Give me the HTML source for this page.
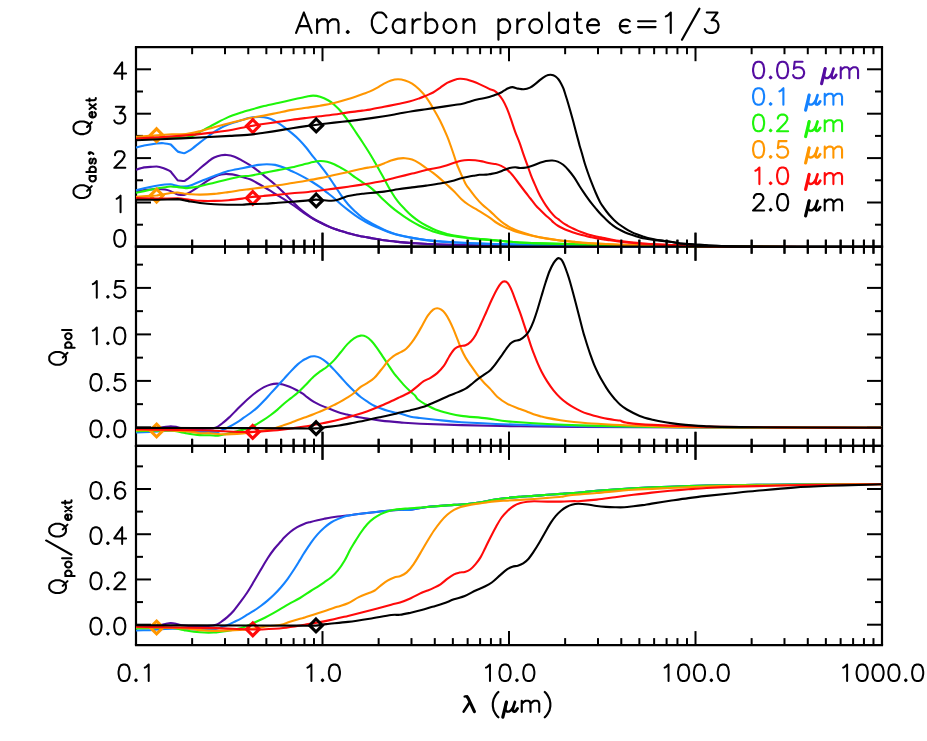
<!DOCTYPE html>
<html><head><meta charset="utf-8"><title>Am. Carbon prolate</title>
<style>html,body{margin:0;padding:0;background:#fff;font-family:"Liberation Sans",sans-serif;}svg{display:block;}</style>
</head><body>
<svg width="927" height="741" viewBox="0 0 927 741">
<rect width="927" height="741" fill="#ffffff"/>
<defs>
<clipPath id="c1"><rect x="134.8" y="46.2" width="748.4" height="201.5"/></clipPath>
<clipPath id="c2"><rect x="134.8" y="245.7" width="748.4" height="201.1"/></clipPath>
<clipPath id="c3"><rect x="134.8" y="444.8" width="748.4" height="201.3"/></clipPath>
</defs>
<line x1="134.9" y1="47.2" x2="883.1" y2="47.2" stroke="#000" stroke-width="2.2" stroke-linecap="butt"/>
<line x1="134.9" y1="246.7" x2="883.1" y2="246.7" stroke="#000" stroke-width="2.2" stroke-linecap="butt"/>
<line x1="134.9" y1="445.8" x2="883.1" y2="445.8" stroke="#000" stroke-width="2.2" stroke-linecap="butt"/>
<line x1="134.9" y1="645.1" x2="883.1" y2="645.1" stroke="#000" stroke-width="2.2" stroke-linecap="butt"/>
<line x1="136" y1="47.2" x2="136" y2="645.1" stroke="#000" stroke-width="2.2" stroke-linecap="butt"/>
<line x1="882" y1="47.2" x2="882" y2="645.1" stroke="#000" stroke-width="2.2" stroke-linecap="butt"/>
<line x1="192.14" y1="47.2" x2="192.14" y2="54.2" stroke="#000" stroke-width="2" stroke-linecap="butt"/>
<line x1="192.14" y1="239.7" x2="192.14" y2="253.7" stroke="#000" stroke-width="2" stroke-linecap="butt"/>
<line x1="192.14" y1="438.8" x2="192.14" y2="452.8" stroke="#000" stroke-width="2" stroke-linecap="butt"/>
<line x1="192.14" y1="638.1" x2="192.14" y2="645.1" stroke="#000" stroke-width="2" stroke-linecap="butt"/>
<line x1="224.98" y1="47.2" x2="224.98" y2="54.2" stroke="#000" stroke-width="2" stroke-linecap="butt"/>
<line x1="224.98" y1="239.7" x2="224.98" y2="253.7" stroke="#000" stroke-width="2" stroke-linecap="butt"/>
<line x1="224.98" y1="438.8" x2="224.98" y2="452.8" stroke="#000" stroke-width="2" stroke-linecap="butt"/>
<line x1="224.98" y1="638.1" x2="224.98" y2="645.1" stroke="#000" stroke-width="2" stroke-linecap="butt"/>
<line x1="248.28" y1="47.2" x2="248.28" y2="54.2" stroke="#000" stroke-width="2" stroke-linecap="butt"/>
<line x1="248.28" y1="239.7" x2="248.28" y2="253.7" stroke="#000" stroke-width="2" stroke-linecap="butt"/>
<line x1="248.28" y1="438.8" x2="248.28" y2="452.8" stroke="#000" stroke-width="2" stroke-linecap="butt"/>
<line x1="248.28" y1="638.1" x2="248.28" y2="645.1" stroke="#000" stroke-width="2" stroke-linecap="butt"/>
<line x1="266.36" y1="47.2" x2="266.36" y2="54.2" stroke="#000" stroke-width="2" stroke-linecap="butt"/>
<line x1="266.36" y1="239.7" x2="266.36" y2="253.7" stroke="#000" stroke-width="2" stroke-linecap="butt"/>
<line x1="266.36" y1="438.8" x2="266.36" y2="452.8" stroke="#000" stroke-width="2" stroke-linecap="butt"/>
<line x1="266.36" y1="638.1" x2="266.36" y2="645.1" stroke="#000" stroke-width="2" stroke-linecap="butt"/>
<line x1="281.13" y1="47.2" x2="281.13" y2="54.2" stroke="#000" stroke-width="2" stroke-linecap="butt"/>
<line x1="281.13" y1="239.7" x2="281.13" y2="253.7" stroke="#000" stroke-width="2" stroke-linecap="butt"/>
<line x1="281.13" y1="438.8" x2="281.13" y2="452.8" stroke="#000" stroke-width="2" stroke-linecap="butt"/>
<line x1="281.13" y1="638.1" x2="281.13" y2="645.1" stroke="#000" stroke-width="2" stroke-linecap="butt"/>
<line x1="293.61" y1="47.2" x2="293.61" y2="54.2" stroke="#000" stroke-width="2" stroke-linecap="butt"/>
<line x1="293.61" y1="239.7" x2="293.61" y2="253.7" stroke="#000" stroke-width="2" stroke-linecap="butt"/>
<line x1="293.61" y1="438.8" x2="293.61" y2="452.8" stroke="#000" stroke-width="2" stroke-linecap="butt"/>
<line x1="293.61" y1="638.1" x2="293.61" y2="645.1" stroke="#000" stroke-width="2" stroke-linecap="butt"/>
<line x1="304.43" y1="47.2" x2="304.43" y2="54.2" stroke="#000" stroke-width="2" stroke-linecap="butt"/>
<line x1="304.43" y1="239.7" x2="304.43" y2="253.7" stroke="#000" stroke-width="2" stroke-linecap="butt"/>
<line x1="304.43" y1="438.8" x2="304.43" y2="452.8" stroke="#000" stroke-width="2" stroke-linecap="butt"/>
<line x1="304.43" y1="638.1" x2="304.43" y2="645.1" stroke="#000" stroke-width="2" stroke-linecap="butt"/>
<line x1="313.97" y1="47.2" x2="313.97" y2="54.2" stroke="#000" stroke-width="2" stroke-linecap="butt"/>
<line x1="313.97" y1="239.7" x2="313.97" y2="253.7" stroke="#000" stroke-width="2" stroke-linecap="butt"/>
<line x1="313.97" y1="438.8" x2="313.97" y2="452.8" stroke="#000" stroke-width="2" stroke-linecap="butt"/>
<line x1="313.97" y1="638.1" x2="313.97" y2="645.1" stroke="#000" stroke-width="2" stroke-linecap="butt"/>
<line x1="322.5" y1="47.2" x2="322.5" y2="61.2" stroke="#000" stroke-width="2" stroke-linecap="butt"/>
<line x1="322.5" y1="232.7" x2="322.5" y2="260.7" stroke="#000" stroke-width="2" stroke-linecap="butt"/>
<line x1="322.5" y1="431.8" x2="322.5" y2="459.8" stroke="#000" stroke-width="2" stroke-linecap="butt"/>
<line x1="322.5" y1="631.1" x2="322.5" y2="645.1" stroke="#000" stroke-width="2" stroke-linecap="butt"/>
<line x1="378.64" y1="47.2" x2="378.64" y2="54.2" stroke="#000" stroke-width="2" stroke-linecap="butt"/>
<line x1="378.64" y1="239.7" x2="378.64" y2="253.7" stroke="#000" stroke-width="2" stroke-linecap="butt"/>
<line x1="378.64" y1="438.8" x2="378.64" y2="452.8" stroke="#000" stroke-width="2" stroke-linecap="butt"/>
<line x1="378.64" y1="638.1" x2="378.64" y2="645.1" stroke="#000" stroke-width="2" stroke-linecap="butt"/>
<line x1="411.48" y1="47.2" x2="411.48" y2="54.2" stroke="#000" stroke-width="2" stroke-linecap="butt"/>
<line x1="411.48" y1="239.7" x2="411.48" y2="253.7" stroke="#000" stroke-width="2" stroke-linecap="butt"/>
<line x1="411.48" y1="438.8" x2="411.48" y2="452.8" stroke="#000" stroke-width="2" stroke-linecap="butt"/>
<line x1="411.48" y1="638.1" x2="411.48" y2="645.1" stroke="#000" stroke-width="2" stroke-linecap="butt"/>
<line x1="434.78" y1="47.2" x2="434.78" y2="54.2" stroke="#000" stroke-width="2" stroke-linecap="butt"/>
<line x1="434.78" y1="239.7" x2="434.78" y2="253.7" stroke="#000" stroke-width="2" stroke-linecap="butt"/>
<line x1="434.78" y1="438.8" x2="434.78" y2="452.8" stroke="#000" stroke-width="2" stroke-linecap="butt"/>
<line x1="434.78" y1="638.1" x2="434.78" y2="645.1" stroke="#000" stroke-width="2" stroke-linecap="butt"/>
<line x1="452.86" y1="47.2" x2="452.86" y2="54.2" stroke="#000" stroke-width="2" stroke-linecap="butt"/>
<line x1="452.86" y1="239.7" x2="452.86" y2="253.7" stroke="#000" stroke-width="2" stroke-linecap="butt"/>
<line x1="452.86" y1="438.8" x2="452.86" y2="452.8" stroke="#000" stroke-width="2" stroke-linecap="butt"/>
<line x1="452.86" y1="638.1" x2="452.86" y2="645.1" stroke="#000" stroke-width="2" stroke-linecap="butt"/>
<line x1="467.63" y1="47.2" x2="467.63" y2="54.2" stroke="#000" stroke-width="2" stroke-linecap="butt"/>
<line x1="467.63" y1="239.7" x2="467.63" y2="253.7" stroke="#000" stroke-width="2" stroke-linecap="butt"/>
<line x1="467.63" y1="438.8" x2="467.63" y2="452.8" stroke="#000" stroke-width="2" stroke-linecap="butt"/>
<line x1="467.63" y1="638.1" x2="467.63" y2="645.1" stroke="#000" stroke-width="2" stroke-linecap="butt"/>
<line x1="480.11" y1="47.2" x2="480.11" y2="54.2" stroke="#000" stroke-width="2" stroke-linecap="butt"/>
<line x1="480.11" y1="239.7" x2="480.11" y2="253.7" stroke="#000" stroke-width="2" stroke-linecap="butt"/>
<line x1="480.11" y1="438.8" x2="480.11" y2="452.8" stroke="#000" stroke-width="2" stroke-linecap="butt"/>
<line x1="480.11" y1="638.1" x2="480.11" y2="645.1" stroke="#000" stroke-width="2" stroke-linecap="butt"/>
<line x1="490.93" y1="47.2" x2="490.93" y2="54.2" stroke="#000" stroke-width="2" stroke-linecap="butt"/>
<line x1="490.93" y1="239.7" x2="490.93" y2="253.7" stroke="#000" stroke-width="2" stroke-linecap="butt"/>
<line x1="490.93" y1="438.8" x2="490.93" y2="452.8" stroke="#000" stroke-width="2" stroke-linecap="butt"/>
<line x1="490.93" y1="638.1" x2="490.93" y2="645.1" stroke="#000" stroke-width="2" stroke-linecap="butt"/>
<line x1="500.47" y1="47.2" x2="500.47" y2="54.2" stroke="#000" stroke-width="2" stroke-linecap="butt"/>
<line x1="500.47" y1="239.7" x2="500.47" y2="253.7" stroke="#000" stroke-width="2" stroke-linecap="butt"/>
<line x1="500.47" y1="438.8" x2="500.47" y2="452.8" stroke="#000" stroke-width="2" stroke-linecap="butt"/>
<line x1="500.47" y1="638.1" x2="500.47" y2="645.1" stroke="#000" stroke-width="2" stroke-linecap="butt"/>
<line x1="509" y1="47.2" x2="509" y2="61.2" stroke="#000" stroke-width="2" stroke-linecap="butt"/>
<line x1="509" y1="232.7" x2="509" y2="260.7" stroke="#000" stroke-width="2" stroke-linecap="butt"/>
<line x1="509" y1="431.8" x2="509" y2="459.8" stroke="#000" stroke-width="2" stroke-linecap="butt"/>
<line x1="509" y1="631.1" x2="509" y2="645.1" stroke="#000" stroke-width="2" stroke-linecap="butt"/>
<line x1="565.14" y1="47.2" x2="565.14" y2="54.2" stroke="#000" stroke-width="2" stroke-linecap="butt"/>
<line x1="565.14" y1="239.7" x2="565.14" y2="253.7" stroke="#000" stroke-width="2" stroke-linecap="butt"/>
<line x1="565.14" y1="438.8" x2="565.14" y2="452.8" stroke="#000" stroke-width="2" stroke-linecap="butt"/>
<line x1="565.14" y1="638.1" x2="565.14" y2="645.1" stroke="#000" stroke-width="2" stroke-linecap="butt"/>
<line x1="597.98" y1="47.2" x2="597.98" y2="54.2" stroke="#000" stroke-width="2" stroke-linecap="butt"/>
<line x1="597.98" y1="239.7" x2="597.98" y2="253.7" stroke="#000" stroke-width="2" stroke-linecap="butt"/>
<line x1="597.98" y1="438.8" x2="597.98" y2="452.8" stroke="#000" stroke-width="2" stroke-linecap="butt"/>
<line x1="597.98" y1="638.1" x2="597.98" y2="645.1" stroke="#000" stroke-width="2" stroke-linecap="butt"/>
<line x1="621.28" y1="47.2" x2="621.28" y2="54.2" stroke="#000" stroke-width="2" stroke-linecap="butt"/>
<line x1="621.28" y1="239.7" x2="621.28" y2="253.7" stroke="#000" stroke-width="2" stroke-linecap="butt"/>
<line x1="621.28" y1="438.8" x2="621.28" y2="452.8" stroke="#000" stroke-width="2" stroke-linecap="butt"/>
<line x1="621.28" y1="638.1" x2="621.28" y2="645.1" stroke="#000" stroke-width="2" stroke-linecap="butt"/>
<line x1="639.36" y1="47.2" x2="639.36" y2="54.2" stroke="#000" stroke-width="2" stroke-linecap="butt"/>
<line x1="639.36" y1="239.7" x2="639.36" y2="253.7" stroke="#000" stroke-width="2" stroke-linecap="butt"/>
<line x1="639.36" y1="438.8" x2="639.36" y2="452.8" stroke="#000" stroke-width="2" stroke-linecap="butt"/>
<line x1="639.36" y1="638.1" x2="639.36" y2="645.1" stroke="#000" stroke-width="2" stroke-linecap="butt"/>
<line x1="654.13" y1="47.2" x2="654.13" y2="54.2" stroke="#000" stroke-width="2" stroke-linecap="butt"/>
<line x1="654.13" y1="239.7" x2="654.13" y2="253.7" stroke="#000" stroke-width="2" stroke-linecap="butt"/>
<line x1="654.13" y1="438.8" x2="654.13" y2="452.8" stroke="#000" stroke-width="2" stroke-linecap="butt"/>
<line x1="654.13" y1="638.1" x2="654.13" y2="645.1" stroke="#000" stroke-width="2" stroke-linecap="butt"/>
<line x1="666.61" y1="47.2" x2="666.61" y2="54.2" stroke="#000" stroke-width="2" stroke-linecap="butt"/>
<line x1="666.61" y1="239.7" x2="666.61" y2="253.7" stroke="#000" stroke-width="2" stroke-linecap="butt"/>
<line x1="666.61" y1="438.8" x2="666.61" y2="452.8" stroke="#000" stroke-width="2" stroke-linecap="butt"/>
<line x1="666.61" y1="638.1" x2="666.61" y2="645.1" stroke="#000" stroke-width="2" stroke-linecap="butt"/>
<line x1="677.43" y1="47.2" x2="677.43" y2="54.2" stroke="#000" stroke-width="2" stroke-linecap="butt"/>
<line x1="677.43" y1="239.7" x2="677.43" y2="253.7" stroke="#000" stroke-width="2" stroke-linecap="butt"/>
<line x1="677.43" y1="438.8" x2="677.43" y2="452.8" stroke="#000" stroke-width="2" stroke-linecap="butt"/>
<line x1="677.43" y1="638.1" x2="677.43" y2="645.1" stroke="#000" stroke-width="2" stroke-linecap="butt"/>
<line x1="686.97" y1="47.2" x2="686.97" y2="54.2" stroke="#000" stroke-width="2" stroke-linecap="butt"/>
<line x1="686.97" y1="239.7" x2="686.97" y2="253.7" stroke="#000" stroke-width="2" stroke-linecap="butt"/>
<line x1="686.97" y1="438.8" x2="686.97" y2="452.8" stroke="#000" stroke-width="2" stroke-linecap="butt"/>
<line x1="686.97" y1="638.1" x2="686.97" y2="645.1" stroke="#000" stroke-width="2" stroke-linecap="butt"/>
<line x1="695.5" y1="47.2" x2="695.5" y2="61.2" stroke="#000" stroke-width="2" stroke-linecap="butt"/>
<line x1="695.5" y1="232.7" x2="695.5" y2="260.7" stroke="#000" stroke-width="2" stroke-linecap="butt"/>
<line x1="695.5" y1="431.8" x2="695.5" y2="459.8" stroke="#000" stroke-width="2" stroke-linecap="butt"/>
<line x1="695.5" y1="631.1" x2="695.5" y2="645.1" stroke="#000" stroke-width="2" stroke-linecap="butt"/>
<line x1="751.64" y1="47.2" x2="751.64" y2="54.2" stroke="#000" stroke-width="2" stroke-linecap="butt"/>
<line x1="751.64" y1="239.7" x2="751.64" y2="253.7" stroke="#000" stroke-width="2" stroke-linecap="butt"/>
<line x1="751.64" y1="438.8" x2="751.64" y2="452.8" stroke="#000" stroke-width="2" stroke-linecap="butt"/>
<line x1="751.64" y1="638.1" x2="751.64" y2="645.1" stroke="#000" stroke-width="2" stroke-linecap="butt"/>
<line x1="784.48" y1="47.2" x2="784.48" y2="54.2" stroke="#000" stroke-width="2" stroke-linecap="butt"/>
<line x1="784.48" y1="239.7" x2="784.48" y2="253.7" stroke="#000" stroke-width="2" stroke-linecap="butt"/>
<line x1="784.48" y1="438.8" x2="784.48" y2="452.8" stroke="#000" stroke-width="2" stroke-linecap="butt"/>
<line x1="784.48" y1="638.1" x2="784.48" y2="645.1" stroke="#000" stroke-width="2" stroke-linecap="butt"/>
<line x1="807.78" y1="47.2" x2="807.78" y2="54.2" stroke="#000" stroke-width="2" stroke-linecap="butt"/>
<line x1="807.78" y1="239.7" x2="807.78" y2="253.7" stroke="#000" stroke-width="2" stroke-linecap="butt"/>
<line x1="807.78" y1="438.8" x2="807.78" y2="452.8" stroke="#000" stroke-width="2" stroke-linecap="butt"/>
<line x1="807.78" y1="638.1" x2="807.78" y2="645.1" stroke="#000" stroke-width="2" stroke-linecap="butt"/>
<line x1="825.86" y1="47.2" x2="825.86" y2="54.2" stroke="#000" stroke-width="2" stroke-linecap="butt"/>
<line x1="825.86" y1="239.7" x2="825.86" y2="253.7" stroke="#000" stroke-width="2" stroke-linecap="butt"/>
<line x1="825.86" y1="438.8" x2="825.86" y2="452.8" stroke="#000" stroke-width="2" stroke-linecap="butt"/>
<line x1="825.86" y1="638.1" x2="825.86" y2="645.1" stroke="#000" stroke-width="2" stroke-linecap="butt"/>
<line x1="840.63" y1="47.2" x2="840.63" y2="54.2" stroke="#000" stroke-width="2" stroke-linecap="butt"/>
<line x1="840.63" y1="239.7" x2="840.63" y2="253.7" stroke="#000" stroke-width="2" stroke-linecap="butt"/>
<line x1="840.63" y1="438.8" x2="840.63" y2="452.8" stroke="#000" stroke-width="2" stroke-linecap="butt"/>
<line x1="840.63" y1="638.1" x2="840.63" y2="645.1" stroke="#000" stroke-width="2" stroke-linecap="butt"/>
<line x1="853.11" y1="47.2" x2="853.11" y2="54.2" stroke="#000" stroke-width="2" stroke-linecap="butt"/>
<line x1="853.11" y1="239.7" x2="853.11" y2="253.7" stroke="#000" stroke-width="2" stroke-linecap="butt"/>
<line x1="853.11" y1="438.8" x2="853.11" y2="452.8" stroke="#000" stroke-width="2" stroke-linecap="butt"/>
<line x1="853.11" y1="638.1" x2="853.11" y2="645.1" stroke="#000" stroke-width="2" stroke-linecap="butt"/>
<line x1="863.93" y1="47.2" x2="863.93" y2="54.2" stroke="#000" stroke-width="2" stroke-linecap="butt"/>
<line x1="863.93" y1="239.7" x2="863.93" y2="253.7" stroke="#000" stroke-width="2" stroke-linecap="butt"/>
<line x1="863.93" y1="438.8" x2="863.93" y2="452.8" stroke="#000" stroke-width="2" stroke-linecap="butt"/>
<line x1="863.93" y1="638.1" x2="863.93" y2="645.1" stroke="#000" stroke-width="2" stroke-linecap="butt"/>
<line x1="873.47" y1="47.2" x2="873.47" y2="54.2" stroke="#000" stroke-width="2" stroke-linecap="butt"/>
<line x1="873.47" y1="239.7" x2="873.47" y2="253.7" stroke="#000" stroke-width="2" stroke-linecap="butt"/>
<line x1="873.47" y1="438.8" x2="873.47" y2="452.8" stroke="#000" stroke-width="2" stroke-linecap="butt"/>
<line x1="873.47" y1="638.1" x2="873.47" y2="645.1" stroke="#000" stroke-width="2" stroke-linecap="butt"/>
<line x1="136" y1="202.5" x2="151" y2="202.5" stroke="#000" stroke-width="2" stroke-linecap="butt"/>
<line x1="867" y1="202.5" x2="882" y2="202.5" stroke="#000" stroke-width="2" stroke-linecap="butt"/>
<line x1="136" y1="158.1" x2="151" y2="158.1" stroke="#000" stroke-width="2" stroke-linecap="butt"/>
<line x1="867" y1="158.1" x2="882" y2="158.1" stroke="#000" stroke-width="2" stroke-linecap="butt"/>
<line x1="136" y1="113.7" x2="151" y2="113.7" stroke="#000" stroke-width="2" stroke-linecap="butt"/>
<line x1="867" y1="113.7" x2="882" y2="113.7" stroke="#000" stroke-width="2" stroke-linecap="butt"/>
<line x1="136" y1="69.3" x2="151" y2="69.3" stroke="#000" stroke-width="2" stroke-linecap="butt"/>
<line x1="867" y1="69.3" x2="882" y2="69.3" stroke="#000" stroke-width="2" stroke-linecap="butt"/>
<line x1="136" y1="224.7" x2="143" y2="224.7" stroke="#000" stroke-width="2" stroke-linecap="butt"/>
<line x1="875" y1="224.7" x2="882" y2="224.7" stroke="#000" stroke-width="2" stroke-linecap="butt"/>
<line x1="136" y1="180.3" x2="143" y2="180.3" stroke="#000" stroke-width="2" stroke-linecap="butt"/>
<line x1="875" y1="180.3" x2="882" y2="180.3" stroke="#000" stroke-width="2" stroke-linecap="butt"/>
<line x1="136" y1="135.9" x2="143" y2="135.9" stroke="#000" stroke-width="2" stroke-linecap="butt"/>
<line x1="875" y1="135.9" x2="882" y2="135.9" stroke="#000" stroke-width="2" stroke-linecap="butt"/>
<line x1="136" y1="91.5" x2="143" y2="91.5" stroke="#000" stroke-width="2" stroke-linecap="butt"/>
<line x1="875" y1="91.5" x2="882" y2="91.5" stroke="#000" stroke-width="2" stroke-linecap="butt"/>
<line x1="136" y1="427.4" x2="151" y2="427.4" stroke="#000" stroke-width="2" stroke-linecap="butt"/>
<line x1="867" y1="427.4" x2="882" y2="427.4" stroke="#000" stroke-width="2" stroke-linecap="butt"/>
<line x1="136" y1="380.9" x2="151" y2="380.9" stroke="#000" stroke-width="2" stroke-linecap="butt"/>
<line x1="867" y1="380.9" x2="882" y2="380.9" stroke="#000" stroke-width="2" stroke-linecap="butt"/>
<line x1="136" y1="334.4" x2="151" y2="334.4" stroke="#000" stroke-width="2" stroke-linecap="butt"/>
<line x1="867" y1="334.4" x2="882" y2="334.4" stroke="#000" stroke-width="2" stroke-linecap="butt"/>
<line x1="136" y1="287.9" x2="151" y2="287.9" stroke="#000" stroke-width="2" stroke-linecap="butt"/>
<line x1="867" y1="287.9" x2="882" y2="287.9" stroke="#000" stroke-width="2" stroke-linecap="butt"/>
<line x1="136" y1="404.15" x2="143" y2="404.15" stroke="#000" stroke-width="2" stroke-linecap="butt"/>
<line x1="875" y1="404.15" x2="882" y2="404.15" stroke="#000" stroke-width="2" stroke-linecap="butt"/>
<line x1="136" y1="357.65" x2="143" y2="357.65" stroke="#000" stroke-width="2" stroke-linecap="butt"/>
<line x1="875" y1="357.65" x2="882" y2="357.65" stroke="#000" stroke-width="2" stroke-linecap="butt"/>
<line x1="136" y1="311.15" x2="143" y2="311.15" stroke="#000" stroke-width="2" stroke-linecap="butt"/>
<line x1="875" y1="311.15" x2="882" y2="311.15" stroke="#000" stroke-width="2" stroke-linecap="butt"/>
<line x1="136" y1="264.65" x2="143" y2="264.65" stroke="#000" stroke-width="2" stroke-linecap="butt"/>
<line x1="875" y1="264.65" x2="882" y2="264.65" stroke="#000" stroke-width="2" stroke-linecap="butt"/>
<line x1="136" y1="624.7" x2="151" y2="624.7" stroke="#000" stroke-width="2" stroke-linecap="butt"/>
<line x1="867" y1="624.7" x2="882" y2="624.7" stroke="#000" stroke-width="2" stroke-linecap="butt"/>
<line x1="136" y1="579.46" x2="151" y2="579.46" stroke="#000" stroke-width="2" stroke-linecap="butt"/>
<line x1="867" y1="579.46" x2="882" y2="579.46" stroke="#000" stroke-width="2" stroke-linecap="butt"/>
<line x1="136" y1="534.22" x2="151" y2="534.22" stroke="#000" stroke-width="2" stroke-linecap="butt"/>
<line x1="867" y1="534.22" x2="882" y2="534.22" stroke="#000" stroke-width="2" stroke-linecap="butt"/>
<line x1="136" y1="488.98" x2="151" y2="488.98" stroke="#000" stroke-width="2" stroke-linecap="butt"/>
<line x1="867" y1="488.98" x2="882" y2="488.98" stroke="#000" stroke-width="2" stroke-linecap="butt"/>
<line x1="136" y1="602.08" x2="143" y2="602.08" stroke="#000" stroke-width="2" stroke-linecap="butt"/>
<line x1="875" y1="602.08" x2="882" y2="602.08" stroke="#000" stroke-width="2" stroke-linecap="butt"/>
<line x1="136" y1="556.84" x2="143" y2="556.84" stroke="#000" stroke-width="2" stroke-linecap="butt"/>
<line x1="875" y1="556.84" x2="882" y2="556.84" stroke="#000" stroke-width="2" stroke-linecap="butt"/>
<line x1="136" y1="511.6" x2="143" y2="511.6" stroke="#000" stroke-width="2" stroke-linecap="butt"/>
<line x1="875" y1="511.6" x2="882" y2="511.6" stroke="#000" stroke-width="2" stroke-linecap="butt"/>
<line x1="136" y1="466.36" x2="143" y2="466.36" stroke="#000" stroke-width="2" stroke-linecap="butt"/>
<line x1="875" y1="466.36" x2="882" y2="466.36" stroke="#000" stroke-width="2" stroke-linecap="butt"/>
<path d="M136 169.7 C136.27 169.62 143.31 167.51 144 167.4 C144.69 167.29 155.94 166.47 156.6 166.5 C157.26 166.53 163.23 168.13 163.7 168.3 C164.17 168.47 170.23 171.2 170.7 171.6 C171.17 172 177.26 179.99 177.7 180.3 C178.14 180.61 183.58 181.12 184 181 C184.42 180.88 189.76 177.22 190.3 176.8 C192.98 174.68 197.07 170.88 200.1 168.3 C203.13 165.72 206.15 163.1 208.5 161.3 C210.85 159.5 212.08 158.5 214.2 157.5 C216.32 156.5 219.1 155.72 221.2 155.3 C223.3 154.88 224.7 154.82 226.8 155 C228.9 155.18 231.23 155.47 233.8 156.4 C236.37 157.33 239.5 159.13 242.2 160.6 C244.9 162.07 247.53 163.62 250 165.2 C252.47 166.78 254.67 168.35 257 170.1 C259.33 171.85 261.67 173.87 264 175.7 C266.33 177.53 268.67 179.18 271 181.1 C273.33 183.02 275.65 185.05 278 187.2 C280.35 189.35 282.75 191.65 285.1 194 C287.45 196.35 289.77 198.97 292.1 201.3 C294.43 203.63 296.77 205.95 299.1 208 C301.43 210.05 303.77 211.85 306.1 213.6 C308.43 215.35 310.77 217.05 313.1 218.5 C315.43 219.95 317.77 221.08 320.1 222.3 C322.43 223.52 324.75 224.72 327.1 225.8 C329.45 226.88 331.85 227.92 334.2 228.8 C336.55 229.68 338.87 230.37 341.2 231.1 C343.53 231.83 345.87 232.53 348.2 233.2 C350.53 233.87 352.87 234.55 355.2 235.1 C357.53 235.65 359.73 236.03 362.2 236.5 C364.67 236.97 366.37 237.27 370 237.9 C373.63 238.53 379.33 239.63 384 240.3 C388.67 240.97 393.32 241.43 398 241.9 C402.68 242.37 405.08 242.67 412.1 243.1 C419.12 243.53 425.45 244.03 440.1 244.5 C454.75 244.97 473.35 245.5 500 245.9 C526.65 246.3 536.33 246.67 600 246.9 C663.67 247.13 835 247.23 882 247.3" fill="none" stroke="#540ca0" stroke-width="2.1" stroke-linejoin="round" clip-path="url(#c1)"/>
<path d="M136 191.6 C136.27 191.55 143.31 190.09 144 190 C144.69 189.91 155.9 189.02 156.6 189 C157.3 188.98 164.53 189.43 165 189.5 C165.47 189.57 170.28 190.93 170.7 191.1 C171.12 191.27 177.26 194.47 177.7 194.6 C178.14 194.73 183.58 194.98 184 194.9 C184.42 194.82 189.76 192.41 190.3 192.1 C192.98 190.57 197.07 187.7 200.1 185.7 C203.13 183.7 206.15 181.55 208.5 180.1 C210.85 178.65 212.08 177.93 214.2 177 C216.32 176.07 218.87 174.98 221.2 174.5 C223.53 174.02 225.63 173.98 228.2 174.1 C230.77 174.22 234.27 174.72 236.6 175.2 C238.93 175.68 239.97 176.32 242.2 177 C244.43 177.68 247.53 178.3 250 179.3 C252.47 180.3 254.67 181.72 257 183 C259.33 184.28 261.67 185.63 264 187 C266.33 188.37 268.67 189.75 271 191.2 C273.33 192.65 275.65 194.25 278 195.7 C280.35 197.15 282.75 198.43 285.1 199.9 C287.45 201.37 289.77 202.92 292.1 204.5 C294.43 206.08 296.77 207.77 299.1 209.4 C301.43 211.03 303.77 212.73 306.1 214.3 C308.43 215.87 310.77 217.43 313.1 218.8 C315.43 220.17 317.77 221.32 320.1 222.5 C322.43 223.68 324.75 224.85 327.1 225.9 C329.45 226.95 331.85 227.93 334.2 228.8 C336.55 229.67 338.87 230.37 341.2 231.1 C343.53 231.83 345.87 232.53 348.2 233.2 C350.53 233.87 352.87 234.55 355.2 235.1 C357.53 235.65 359.73 236.03 362.2 236.5 C364.67 236.97 366.37 237.27 370 237.9 C373.63 238.53 379.33 239.63 384 240.3 C388.67 240.97 393.32 241.43 398 241.9 C402.68 242.37 405.08 242.67 412.1 243.1 C419.12 243.53 425.45 244.03 440.1 244.5 C454.75 244.97 473.35 245.5 500 245.9 C526.65 246.3 536.33 246.67 600 246.9 C663.67 247.13 835 247.23 882 247.3" fill="none" stroke="#540ca0" stroke-width="2.1" stroke-linejoin="round" clip-path="url(#c1)"/>
<path d="M136 147.7 C136.27 147.63 143.31 145.64 144 145.5 C144.69 145.36 155.94 143.58 156.6 143.5 C157.26 143.42 163.23 143.17 163.7 143.2 C164.17 143.23 170.23 144.22 170.7 144.5 C171.17 144.78 177.26 151.21 177.7 151.5 C178.14 151.79 183.58 153.35 184 153.3 C184.42 153.25 189.76 150.46 190.3 150.1 C192.98 148.28 197.07 144.73 200.1 142.4 C203.13 140.07 206.15 137.85 208.5 136.1 C210.85 134.35 212.08 133.3 214.2 131.9 C216.32 130.5 218.87 128.93 221.2 127.7 C223.53 126.47 224.7 125.78 228.2 124.5 C231.7 123.22 238.57 121.12 242.2 120 C245.83 118.88 247.3 118.3 250 117.8 C252.7 117.3 256.07 117.08 258.4 117 C260.73 116.92 261.9 116.95 264 117.3 C266.1 117.65 268.67 118.17 271 119.1 C273.33 120.03 275.65 121.45 278 122.9 C280.35 124.35 282.75 126.05 285.1 127.8 C287.45 129.55 289.77 131.42 292.1 133.4 C294.43 135.38 296.77 137.35 299.1 139.7 C301.43 142.05 303.77 144.67 306.1 147.5 C308.43 150.33 310.77 153.75 313.1 156.7 C315.43 159.65 317.77 162.27 320.1 165.2 C322.43 168.13 324.75 171.02 327.1 174.3 C329.45 177.58 331.85 181.38 334.2 184.9 C336.55 188.42 338.87 192.13 341.2 195.4 C343.53 198.67 345.87 201.82 348.2 204.5 C350.53 207.18 352.87 209.33 355.2 211.5 C357.53 213.67 359.87 215.75 362.2 217.5 C364.53 219.25 366.73 220.55 369.2 222 C371.67 223.45 374.53 224.92 377 226.2 C379.47 227.48 381.67 228.65 384 229.7 C386.33 230.75 388.67 231.67 391 232.5 C393.33 233.33 394.48 233.83 398 234.7 C401.52 235.57 407.42 236.82 412.1 237.7 C416.78 238.58 421.43 239.38 426.1 240 C430.77 240.62 435.42 241 440.1 241.4 C444.78 241.8 449.52 242.12 454.2 242.4 C458.88 242.68 460.57 242.8 468.2 243.1 C475.83 243.4 484.7 243.8 500 244.2 C515.3 244.6 535 245.08 560 245.5 C585 245.92 596.33 246.4 650 246.7 C703.67 247 843.33 247.2 882 247.3" fill="none" stroke="#1482ff" stroke-width="2.1" stroke-linejoin="round" clip-path="url(#c1)"/>
<path d="M136 190.2 C136.27 190.14 143.31 188.45 144 188.3 C144.69 188.15 155.71 185.83 156.6 185.7 C157.49 185.57 170 184.29 170.7 184.3 C171.4 184.31 177.26 185.93 177.7 186 C178.14 186.07 183.58 186.52 184 186.5 C184.42 186.48 189.76 185.67 190.3 185.5 C192.98 184.67 196.12 183.1 200.1 181.5 C204.08 179.9 209.52 177.65 214.2 175.9 C218.88 174.15 223.53 172.28 228.2 171 C232.87 169.72 238.57 168.93 242.2 168.2 C245.83 167.47 247.3 167.15 250 166.6 C252.7 166.05 255.6 165.3 258.4 164.9 C261.2 164.5 264 164.2 266.8 164.2 C269.6 164.2 272.15 164.27 275.2 164.9 C278.25 165.53 282.28 166.93 285.1 168 C287.92 169.07 289.77 170.2 292.1 171.3 C294.43 172.4 296.77 173.43 299.1 174.6 C301.43 175.77 303.77 176.98 306.1 178.3 C308.43 179.62 310.77 181.02 313.1 182.5 C315.43 183.98 317.77 185.52 320.1 187.2 C322.43 188.88 324.75 190.77 327.1 192.6 C329.45 194.43 331.85 196.22 334.2 198.2 C336.55 200.18 338.87 202.52 341.2 204.5 C343.53 206.48 345.87 208.3 348.2 210.1 C350.53 211.9 352.87 213.67 355.2 215.3 C357.53 216.93 359.87 218.5 362.2 219.9 C364.53 221.3 366.73 222.47 369.2 223.7 C371.67 224.93 374.53 226.2 377 227.3 C379.47 228.4 381.67 229.37 384 230.3 C386.33 231.23 388.67 232.12 391 232.9 C393.33 233.68 394.48 234.17 398 235 C401.52 235.83 407.42 237.05 412.1 237.9 C416.78 238.75 421.43 239.5 426.1 240.1 C430.77 240.7 435.42 241.12 440.1 241.5 C444.78 241.88 449.52 242.13 454.2 242.4 C458.88 242.67 460.57 242.8 468.2 243.1 C475.83 243.4 484.7 243.8 500 244.2 C515.3 244.6 535 245.08 560 245.5 C585 245.92 596.33 246.4 650 246.7 C703.67 247 843.33 247.2 882 247.3" fill="none" stroke="#1482ff" stroke-width="2.1" stroke-linejoin="round" clip-path="url(#c1)"/>
<path d="M136 137.7 C136.8 137.7 158.66 137.71 160 137.7 C161.34 137.69 175.43 137.51 176.3 137.5 C177.17 137.49 185.44 137.56 186 137.5 C186.56 137.44 192.53 135.89 193 135.7 C195.33 134.77 196.47 133.82 200 131.9 C203.53 129.98 209.5 126.67 214.2 124.2 C218.9 121.73 223.53 119.1 228.2 117.1 C232.87 115.1 238.57 113.4 242.2 112.2 C245.83 111 246.37 110.92 250 109.9 C253.63 108.88 259.33 107.27 264 106.1 C268.67 104.93 273.32 103.95 278 102.9 C282.68 101.85 287.42 100.83 292.1 99.8 C296.78 98.77 302.6 97.4 306.1 96.7 C309.6 96 310.77 95.6 313.1 95.6 C315.43 95.6 317.53 95.88 320.1 96.7 C322.67 97.52 326.15 99.17 328.5 100.5 C330.85 101.83 332.08 102.83 334.2 104.7 C336.32 106.57 338.87 109.02 341.2 111.7 C343.53 114.38 345.63 117.18 348.2 120.8 C350.77 124.42 354.27 129.9 356.6 133.4 C358.93 136.9 359.97 138.37 362.2 141.8 C364.43 145.23 367.53 149.98 370 154 C372.47 158.02 374.67 161.82 377 165.9 C379.33 169.98 381.67 174.28 384 178.5 C386.33 182.72 388.67 187.33 391 191.2 C393.33 195.07 395.65 198.67 398 201.7 C400.35 204.73 402.75 207 405.1 209.4 C407.45 211.8 409.77 214.12 412.1 216.1 C414.43 218.08 416.77 219.73 419.1 221.3 C421.43 222.87 423.77 224.22 426.1 225.5 C428.43 226.78 430.77 227.95 433.1 229 C435.43 230.05 437.77 230.98 440.1 231.8 C442.43 232.62 444.75 233.27 447.1 233.9 C449.45 234.53 450.68 234.97 454.2 235.6 C457.72 236.23 463.53 237.12 468.2 237.7 C472.87 238.28 476.9 238.6 482.2 239.1 C487.5 239.6 491.68 240.03 500 240.7 C508.32 241.37 512.1 242.35 532.1 243.1 C552.1 243.85 592.02 244.63 620 245.2 C647.98 245.77 656.33 246.15 700 246.5 C743.67 246.85 851.67 247.17 882 247.3" fill="none" stroke="#1ef50a" stroke-width="2.1" stroke-linejoin="round" clip-path="url(#c1)"/>
<path d="M136 192.8 C136.27 192.74 143.31 191.24 144 191.1 C144.69 190.96 155.71 188.65 156.6 188.5 C157.49 188.35 170 186.55 170.7 186.5 C171.4 186.45 177.19 187.05 177.7 187.1 C178.21 187.15 185.59 188.09 186.1 188.1 C186.61 188.11 192.63 187.46 193.1 187.4 C195.43 187.08 196.58 186.98 200.1 186.2 C203.62 185.42 209.52 183.87 214.2 182.7 C218.88 181.53 223.53 180.28 228.2 179.2 C232.87 178.12 238.57 176.78 242.2 176.2 C245.83 175.62 246.37 176.25 250 175.7 C253.63 175.15 259.33 173.83 264 172.9 C268.67 171.97 273.32 171.03 278 170.1 C282.68 169.17 287.42 168.35 292.1 167.3 C296.78 166.25 302.6 164.68 306.1 163.8 C309.6 162.92 310.77 162.47 313.1 162 C315.43 161.53 317.77 161.05 320.1 161 C322.43 160.95 324.75 161.17 327.1 161.7 C329.45 162.23 331.85 163.15 334.2 164.2 C336.55 165.25 338.87 166.67 341.2 168 C343.53 169.33 345.87 170.63 348.2 172.2 C350.53 173.77 352.87 175.75 355.2 177.4 C357.53 179.05 359.73 180.48 362.2 182.1 C364.67 183.72 367.53 185.23 370 187.1 C372.47 188.97 374.67 191.1 377 193.3 C379.33 195.5 381.67 198.08 384 200.3 C386.33 202.52 388.67 204.62 391 206.6 C393.33 208.58 395.65 210.45 398 212.2 C400.35 213.95 402.75 215.52 405.1 217.1 C407.45 218.68 409.77 220.3 412.1 221.7 C414.43 223.1 416.77 224.32 419.1 225.5 C421.43 226.68 423.77 227.82 426.1 228.8 C428.43 229.78 430.77 230.62 433.1 231.4 C435.43 232.18 437.77 232.88 440.1 233.5 C442.43 234.12 444.75 234.63 447.1 235.1 C449.45 235.57 450.68 235.78 454.2 236.3 C457.72 236.82 463.53 237.68 468.2 238.2 C472.87 238.72 476.9 238.97 482.2 239.4 C487.5 239.83 491.68 240.18 500 240.8 C508.32 241.42 512.1 242.37 532.1 243.1 C552.1 243.83 592.02 244.63 620 245.2 C647.98 245.77 656.33 246.15 700 246.5 C743.67 246.85 851.67 247.17 882 247.3" fill="none" stroke="#1ef50a" stroke-width="2.1" stroke-linejoin="round" clip-path="url(#c1)"/>
<path d="M136 136.8 C136.47 136.76 148.8 135.78 150 135.7 C151.2 135.62 170.8 134.36 172 134.3 C173.2 134.24 185.07 134.1 186 134 C190.67 133.48 195.3 132.33 200 131.2 C204.7 130.07 209.5 128.48 214.2 127.2 C218.9 125.92 223.53 124.7 228.2 123.5 C232.87 122.3 238.57 120.92 242.2 120 C245.83 119.08 246.37 118.73 250 118 C253.63 117.27 259.33 116.48 264 115.6 C268.67 114.72 273.32 113.65 278 112.7 C282.68 111.75 287.42 110.72 292.1 109.9 C296.78 109.08 301.43 108.5 306.1 107.8 C310.77 107.1 315.42 106.5 320.1 105.7 C324.78 104.9 329.52 104.1 334.2 103 C338.88 101.9 343.53 100.57 348.2 99.1 C352.87 97.63 358.57 95.48 362.2 94.2 C365.83 92.92 367.53 92.47 370 91.4 C372.47 90.33 374.67 89.1 377 87.8 C379.33 86.5 381.67 84.83 384 83.6 C386.33 82.37 388.67 81.13 391 80.4 C393.33 79.67 395.65 79.2 398 79.2 C400.35 79.2 402.75 79.67 405.1 80.4 C407.45 81.13 409.77 82.12 412.1 83.6 C414.43 85.08 416.77 87.03 419.1 89.3 C421.43 91.57 423.77 94.05 426.1 97.2 C428.43 100.35 430.77 104.27 433.1 108.2 C435.43 112.13 437.77 116.13 440.1 120.8 C442.43 125.47 445.23 131.75 447.1 136.2 C448.97 140.65 450.12 144.2 451.3 147.5 C452.48 150.8 453.25 153.17 454.2 156 C455.15 158.83 455.83 161.45 457 164.5 C458.17 167.55 459.8 171.13 461.2 174.3 C462.6 177.47 464.23 181.27 465.4 183.5 C466.57 185.73 466.57 185.48 468.2 187.7 C469.83 189.92 472.87 194 475.2 196.8 C477.53 199.6 479.73 202.12 482.2 204.5 C484.67 206.88 487.53 208.88 490 211.1 C492.47 213.32 494.67 215.7 497 217.8 C499.33 219.9 501.67 222.02 504 223.7 C506.33 225.38 508.65 226.67 511 227.9 C513.35 229.13 514.58 229.85 518.1 231.1 C521.62 232.35 527.43 234.18 532.1 235.4 C536.77 236.62 541.43 237.55 546.1 238.4 C550.77 239.25 555.42 239.92 560.1 240.5 C564.78 241.08 569.52 241.47 574.2 241.9 C578.88 242.33 580.57 242.63 588.2 243.1 C595.83 243.57 604.7 244.17 620 244.7 C635.3 245.23 660 245.92 680 246.3 C700 246.68 706.33 246.83 740 247 C773.67 247.17 858.33 247.25 882 247.3" fill="none" stroke="#ff9600" stroke-width="2.1" stroke-linejoin="round" clip-path="url(#c1)"/>
<path d="M136 196.7 C136.69 196.66 155.44 195.62 156.6 195.5 C157.76 195.38 170 193.1 170.7 193 C171.4 192.9 177.26 192.48 177.7 192.5 C178.14 192.52 183.58 193.44 184 193.5 C184.42 193.56 189.76 194.16 190.3 194.2 C192.98 194.38 196.12 194.65 200.1 194.6 C204.08 194.55 209.52 194.32 214.2 193.9 C218.88 193.48 223.53 192.75 228.2 192.1 C232.87 191.45 238.57 190.5 242.2 190 C245.83 189.5 246.37 189.57 250 189.1 C253.63 188.63 259.33 187.83 264 187.2 C268.67 186.57 273.32 186 278 185.3 C282.68 184.6 287.42 183.77 292.1 183 C296.78 182.23 301.43 181.52 306.1 180.7 C310.77 179.88 315.42 179.05 320.1 178.1 C324.78 177.15 329.52 176.02 334.2 175 C338.88 173.98 343.53 173.05 348.2 172 C352.87 170.95 358.57 169.48 362.2 168.7 C365.83 167.92 367.53 167.73 370 167.3 C372.47 166.87 374.67 166.75 377 166.1 C379.33 165.45 381.67 164.32 384 163.4 C386.33 162.48 388.67 161.4 391 160.6 C393.33 159.8 395.65 159 398 158.6 C400.35 158.2 402.75 158.03 405.1 158.2 C407.45 158.37 409.77 158.78 412.1 159.6 C414.43 160.42 416.77 161.7 419.1 163.1 C421.43 164.5 423.77 166.37 426.1 168 C428.43 169.63 430.77 171.13 433.1 172.9 C435.43 174.67 437.77 176.6 440.1 178.6 C442.43 180.6 444.75 182.75 447.1 184.9 C449.45 187.05 451.85 189.17 454.2 191.5 C456.55 193.83 458.87 196.73 461.2 198.9 C463.53 201.07 465.87 202.87 468.2 204.5 C470.53 206.13 472.87 207.3 475.2 208.7 C477.53 210.1 479.73 211.37 482.2 212.9 C484.67 214.43 487.53 216.22 490 217.9 C492.47 219.58 494.67 221.5 497 223 C499.33 224.5 501.67 225.78 504 226.9 C506.33 228.02 508.65 228.8 511 229.7 C513.35 230.6 514.58 231.28 518.1 232.3 C521.62 233.32 527.43 234.77 532.1 235.8 C536.77 236.83 541.43 237.72 546.1 238.5 C550.77 239.28 555.42 239.93 560.1 240.5 C564.78 241.07 569.52 241.47 574.2 241.9 C578.88 242.33 580.57 242.63 588.2 243.1 C595.83 243.57 604.7 244.17 620 244.7 C635.3 245.23 660 245.92 680 246.3 C700 246.68 706.33 246.83 740 247 C773.67 247.17 858.33 247.25 882 247.3" fill="none" stroke="#ff9600" stroke-width="2.1" stroke-linejoin="round" clip-path="url(#c1)"/>
<path d="M156.6 128.8 L163 135.2 L156.6 141.6 L150.2 135.2 Z" fill="none" stroke="#ff9600" stroke-width="3.1" stroke-linejoin="miter"/>
<path d="M156.6 189.2 L163 195.6 L156.6 202 L150.2 195.6 Z" fill="none" stroke="#ff9600" stroke-width="3.1" stroke-linejoin="miter"/>
<path d="M136 138.5 C136.8 138.46 158.33 137.4 160 137.3 C161.67 137.2 184.43 135.55 186.1 135.4 C194.43 134.67 202.98 133.72 210 132.9 C217.02 132.08 222.87 131.35 228.2 130.5 C233.53 129.65 238.27 128.53 242 127.8 C245.73 127.07 247.4 126.68 250.6 126.1 C253.8 125.52 256.63 125 261.2 124.3 C265.77 123.6 272.85 122.65 278 121.9 C283.15 121.15 287.42 120.45 292.1 119.8 C296.78 119.15 301.43 118.58 306.1 118 C310.77 117.42 315.42 116.88 320.1 116.3 C324.78 115.72 329.52 115.15 334.2 114.5 C338.88 113.85 343.53 113.05 348.2 112.4 C352.87 111.75 358.57 111.07 362.2 110.6 C365.83 110.13 366.37 110.23 370 109.6 C373.63 108.97 379.33 107.73 384 106.8 C388.67 105.87 393.78 104.87 398 104 C402.22 103.13 405.78 102.53 409.3 101.6 C412.82 100.67 416.3 99.4 419.1 98.4 C421.9 97.4 423.77 96.58 426.1 95.6 C428.43 94.62 430.77 93.8 433.1 92.5 C435.43 91.2 437.77 89.4 440.1 87.8 C442.43 86.2 444.75 84.22 447.1 82.9 C449.45 81.58 452.08 80.6 454.2 79.9 C456.32 79.2 457.7 78.78 459.8 78.7 C461.9 78.62 464.47 78.88 466.8 79.4 C469.13 79.92 471.7 81.02 473.8 81.8 C475.9 82.58 477.3 83.17 479.4 84.1 C481.5 85.03 484.63 86.53 486.4 87.4 C488.17 88.27 488.7 88.75 490 89.3 C491.3 89.85 492.8 89.88 494.2 90.7 C495.6 91.52 497 92.68 498.4 94.2 C499.8 95.72 501.2 97.47 502.6 99.8 C504 102.13 505.4 104.93 506.8 108.2 C508.2 111.47 509.6 115.47 511 119.4 C512.4 123.33 513.75 127.85 515.2 131.8 C516.65 135.75 518.33 139.38 519.7 143.1 C521.07 146.82 522.15 150.5 523.4 154.1 C524.65 157.7 525.93 161.17 527.2 164.7 C528.47 168.23 529.78 172.13 531 175.3 C532.22 178.47 533.37 181.05 534.5 183.7 C535.63 186.35 536.62 188.72 537.8 191.2 C538.98 193.68 540.23 196.18 541.6 198.6 C542.97 201.02 544.5 203.48 546 205.7 C547.5 207.92 549.1 210.07 550.6 211.9 C552.1 213.73 553.72 215.48 555 216.7 C556.28 217.92 556.95 218.15 558.3 219.2 C559.65 220.25 561.52 221.9 563.1 223 C564.68 224.1 566.23 224.93 567.8 225.8 C569.37 226.67 570.93 227.43 572.5 228.2 C574.07 228.97 575.63 229.73 577.2 230.4 C578.77 231.07 580.32 231.62 581.9 232.2 C583.48 232.78 585.12 233.38 586.7 233.9 C588.28 234.42 589.83 234.88 591.4 235.3 C592.97 235.72 594.53 236.05 596.1 236.4 C597.67 236.75 599.23 237.07 600.8 237.4 C602.37 237.73 603.97 238.1 605.5 238.4 C607.03 238.7 607.82 238.8 610 239.2 C612.18 239.6 615.13 240.27 618.6 240.8 C622.07 241.33 626.75 241.95 630.8 242.4 C634.85 242.85 637.02 243.08 642.9 243.5 C648.78 243.92 657.55 244.48 666.1 244.9 C674.65 245.32 681.88 245.68 694.2 246 C706.52 246.32 708.7 246.58 740 246.8 C771.3 247.02 858.33 247.22 882 247.3" fill="none" stroke="#ff0a0a" stroke-width="2.1" stroke-linejoin="round" clip-path="url(#c1)"/>
<path d="M136 198.1 C136.69 198.12 155.21 198.59 156.6 198.6 C157.99 198.61 176.58 198.36 177.7 198.4 C178.82 198.44 189.55 199.72 190.3 199.8 C194.03 200.2 196.12 200.62 200.1 200.8 C204.08 200.98 209.52 201 214.2 200.9 C218.88 200.8 223.53 200.58 228.2 200.2 C232.87 199.82 238.57 199.08 242.2 198.6 C245.83 198.12 246.37 197.75 250 197.3 C253.63 196.85 259.33 196.33 264 195.9 C268.67 195.47 273.32 195.13 278 194.7 C282.68 194.27 287.42 193.72 292.1 193.3 C296.78 192.88 301.43 192.67 306.1 192.2 C310.77 191.73 315.42 191.1 320.1 190.5 C324.78 189.9 329.52 189.23 334.2 188.6 C338.88 187.97 343.53 187.37 348.2 186.7 C352.87 186.03 356.23 185.6 362.2 184.6 C368.17 183.6 378.03 181.95 384 180.7 C389.97 179.45 393.32 178.28 398 177.1 C402.68 175.92 407.42 174.77 412.1 173.6 C416.78 172.43 421.43 171.15 426.1 170.1 C430.77 169.05 436.6 168.12 440.1 167.3 C443.6 166.48 444.75 165.95 447.1 165.2 C449.45 164.45 451.85 163.55 454.2 162.8 C456.55 162.05 458.87 161.17 461.2 160.7 C463.53 160.23 465.87 160.07 468.2 160 C470.53 159.93 472.87 160.07 475.2 160.3 C477.53 160.53 479.73 160.9 482.2 161.4 C484.67 161.9 487.77 162.85 490 163.3 C492.23 163.75 493.73 163.67 495.6 164.1 C497.47 164.53 499.33 165.02 501.2 165.9 C503.07 166.78 504.93 167.88 506.8 169.4 C508.67 170.92 510.52 172.82 512.4 175 C514.28 177.18 515.95 179.67 518.1 182.5 C520.25 185.33 523.25 189.33 525.3 192 C527.35 194.67 528.7 196.32 530.4 198.5 C532.1 200.68 533.82 203.13 535.5 205.1 C537.18 207.07 538.82 208.62 540.5 210.3 C542.18 211.98 543.92 213.67 545.6 215.2 C547.28 216.73 549.27 218.28 550.6 219.5 C551.93 220.72 552.32 221.42 553.6 222.5 C554.88 223.58 556.72 225 558.3 226 C559.88 227 561.52 227.75 563.1 228.5 C564.68 229.25 566.23 229.88 567.8 230.5 C569.37 231.12 570.93 231.67 572.5 232.2 C574.07 232.73 575.63 233.23 577.2 233.7 C578.77 234.17 580.32 234.58 581.9 235 C583.48 235.42 585.12 235.83 586.7 236.2 C588.28 236.57 589.83 236.88 591.4 237.2 C592.97 237.52 594.53 237.82 596.1 238.1 C597.67 238.38 599.23 238.65 600.8 238.9 C602.37 239.15 603.97 239.37 605.5 239.6 C607.03 239.83 607.82 240 610 240.3 C612.18 240.6 615.13 240.98 618.6 241.4 C622.07 241.82 626.75 242.42 630.8 242.8 C634.85 243.18 637.02 243.37 642.9 243.7 C648.78 244.03 657.55 244.42 666.1 244.8 C674.65 245.18 681.88 245.67 694.2 246 C706.52 246.33 708.7 246.58 740 246.8 C771.3 247.02 858.33 247.22 882 247.3" fill="none" stroke="#ff0a0a" stroke-width="2.1" stroke-linejoin="round" clip-path="url(#c1)"/>
<path d="M252.8 119.7 L259.2 126.1 L252.8 132.5 L246.4 126.1 Z" fill="none" stroke="#ff0a0a" stroke-width="3.1" stroke-linejoin="miter"/>
<path d="M252.8 191.5 L259.2 197.9 L252.8 204.3 L246.4 197.9 Z" fill="none" stroke="#ff0a0a" stroke-width="3.1" stroke-linejoin="miter"/>
<path d="M136 140.3 C136.8 140.27 157.87 139.39 160 139.3 C170.67 138.83 188.33 138.07 200 137.5 C211.67 136.93 221.67 136.38 230 135.9 C238.33 135.42 244.33 135.13 250 134.6 C255.67 134.07 259.33 133.37 264 132.7 C268.67 132.03 273.32 131.35 278 130.6 C282.68 129.85 287.42 128.95 292.1 128.2 C296.78 127.45 301.43 126.75 306.1 126.1 C310.77 125.45 315.42 124.88 320.1 124.3 C324.78 123.72 329.52 123.13 334.2 122.6 C338.88 122.07 343.53 121.63 348.2 121.1 C352.87 120.57 356.23 120.22 362.2 119.4 C368.17 118.58 378.03 117.13 384 116.2 C389.97 115.27 393.32 114.62 398 113.8 C402.68 112.98 407.42 112.07 412.1 111.3 C416.78 110.53 421.43 109.9 426.1 109.2 C430.77 108.5 435.42 107.8 440.1 107.1 C444.78 106.4 450.45 105.57 454.2 105 C457.95 104.43 459.8 104.33 462.6 103.7 C465.4 103.07 468.2 101.97 471 101.2 C473.8 100.43 476.37 99.8 479.4 99.1 C482.43 98.4 486.63 97.67 489.2 97 C491.77 96.33 493 95.77 494.8 95.1 C496.6 94.43 498.47 93.73 500 93 C501.53 92.27 502.63 91.48 504 90.7 C505.37 89.92 506.8 88.9 508.2 88.3 C509.6 87.7 510.75 87.05 512.4 87.1 C514.05 87.15 516.22 88.23 518.1 88.6 C519.98 88.97 521.72 89.47 523.7 89.3 C525.68 89.13 528.05 88.5 530 87.6 C531.95 86.7 533.6 85.28 535.4 83.9 C537.2 82.52 539.18 80.57 540.8 79.3 C542.42 78.03 543.83 77.02 545.1 76.3 C546.37 75.58 547.5 75.27 548.4 75 C549.3 74.73 549.7 74.67 550.5 74.7 C551.3 74.73 552.3 74.85 553.2 75.2 C554.1 75.55 555 76.08 555.9 76.8 C556.8 77.52 557.7 78.32 558.6 79.5 C559.5 80.68 560.48 82.37 561.3 83.9 C562.12 85.43 562.78 86.82 563.5 88.7 C564.22 90.58 564.88 92.95 565.6 95.2 C566.32 97.45 567.07 99.77 567.8 102.2 C568.53 104.63 569.28 107.28 570 109.8 C570.72 112.32 571.38 114.7 572.1 117.3 C572.82 119.9 573.58 122.7 574.3 125.4 C575.02 128.1 575.68 130.8 576.4 133.5 C577.12 136.2 578.05 139.52 578.6 141.6 C579.15 143.68 579.2 144.23 579.7 146 C580.2 147.77 580.75 149.28 581.6 152.2 C582.45 155.12 583.73 160.03 584.8 163.5 C585.87 166.97 586.92 169.93 588 173 C589.08 176.07 590.03 178.65 591.3 181.9 C592.57 185.15 594.15 189.15 595.6 192.5 C597.05 195.85 598.77 199.63 600 202 C601.23 204.37 601.92 205.12 603 206.7 C604.08 208.28 605.33 209.98 606.5 211.5 C607.67 213.02 608.75 214.38 610 215.8 C611.25 217.22 612.57 218.63 614 220 C615.43 221.37 616.82 222.65 618.6 224 C620.38 225.35 622.67 226.83 624.7 228.1 C626.73 229.37 628.78 230.57 630.8 231.6 C632.82 232.63 634.78 233.5 636.8 234.3 C638.82 235.1 640.87 235.73 642.9 236.4 C644.93 237.07 646.97 237.78 649 238.3 C651.03 238.82 651.6 238.93 655.1 239.5 C658.6 240.07 665.83 241.03 670 241.7 C674.17 242.37 676.07 243.03 680.1 243.5 C684.13 243.97 688.35 244.1 694.2 244.5 C700.05 244.9 707.57 245.55 715.2 245.9 C722.83 246.25 725.87 246.4 740 246.6 C754.13 246.8 776.33 246.98 800 247.1 C823.67 247.22 868.33 247.27 882 247.3" fill="none" stroke="#000000" stroke-width="2.1" stroke-linejoin="round" clip-path="url(#c1)"/>
<path d="M136 199.8 C136.69 199.8 155.21 199.82 156.6 199.8 C157.99 199.78 176.79 199.09 177.7 199.1 C178.61 199.11 183.58 200.12 184 200.2 C184.42 200.28 189.76 201.41 190.3 201.5 C192.98 201.97 196.12 202.53 200.1 203 C204.08 203.47 209.52 204.02 214.2 204.3 C218.88 204.58 223.53 204.63 228.2 204.7 C232.87 204.77 238.57 204.8 242.2 204.7 C245.83 204.6 246.37 204.25 250 204.1 C253.63 203.95 259.33 204.03 264 203.8 C268.67 203.57 273.32 203.05 278 202.7 C282.68 202.35 287.42 202.05 292.1 201.7 C296.78 201.35 302.13 200.95 306.1 200.6 C310.07 200.25 312.87 199.65 315.9 199.6 C318.93 199.55 321.73 200.12 324.3 200.3 C326.87 200.48 329.18 200.77 331.3 200.7 C333.42 200.63 335.12 200.37 337 199.9 C338.88 199.43 340.73 198.53 342.6 197.9 C344.47 197.27 346.1 196.63 348.2 196.1 C350.3 195.57 352.87 195.1 355.2 194.7 C357.53 194.3 357.4 194.22 362.2 193.7 C367 193.18 378.03 192.33 384 191.6 C389.97 190.87 393.32 190 398 189.3 C402.68 188.6 407.42 188.02 412.1 187.4 C416.78 186.78 421.43 186.25 426.1 185.6 C430.77 184.95 435.42 184.37 440.1 183.5 C444.78 182.63 450.68 181.27 454.2 180.4 C457.72 179.53 458.87 178.92 461.2 178.3 C463.53 177.68 465.87 177.17 468.2 176.7 C470.53 176.23 473.33 175.82 475.2 175.5 C477.07 175.18 477.53 174.95 479.4 174.8 C481.27 174.65 484.63 174.72 486.4 174.6 C488.17 174.48 488.23 174.42 490 174.1 C491.77 173.78 494.67 173.37 497 172.7 C499.33 172.03 501.9 170.88 504 170.1 C506.1 169.32 507.73 168.47 509.6 168 C511.47 167.53 513.47 167.3 515.2 167.3 C516.93 167.3 518.12 167.97 520 168 C521.88 168.03 524.33 167.9 526.5 167.5 C528.67 167.1 530.85 166.35 533 165.6 C535.15 164.85 537.25 163.77 539.4 163 C541.55 162.23 543.73 161.42 545.9 161 C548.07 160.58 550.42 160.4 552.4 160.5 C554.38 160.6 556 160.88 557.8 161.6 C559.6 162.32 561.4 163.37 563.2 164.8 C565 166.23 566.8 168.13 568.6 170.2 C570.4 172.27 572.22 174.62 574 177.2 C575.78 179.78 577.72 183.22 579.3 185.7 C580.88 188.18 582.13 190.07 583.5 192.1 C584.87 194.13 586.18 196.05 587.5 197.9 C588.82 199.75 589.97 201.37 591.4 203.2 C592.83 205.03 594.53 207.05 596.1 208.9 C597.67 210.75 599.23 212.63 600.8 214.3 C602.37 215.97 603.97 217.43 605.5 218.9 C607.03 220.37 608.83 222.07 610 223.1 C611.17 224.13 611.07 224.08 612.5 225.1 C613.93 226.12 616.57 228.02 618.6 229.2 C620.63 230.38 622.67 231.3 624.7 232.2 C626.73 233.1 628.78 233.9 630.8 234.6 C632.82 235.3 634.78 235.78 636.8 236.4 C638.82 237.02 639.85 237.68 642.9 238.3 C645.95 238.92 650.58 239.53 655.1 240.1 C659.62 240.67 665.83 241.13 670 241.7 C674.17 242.27 676.07 243.03 680.1 243.5 C684.13 243.97 688.35 244.1 694.2 244.5 C700.05 244.9 707.57 245.55 715.2 245.9 C722.83 246.25 725.87 246.4 740 246.6 C754.13 246.8 776.33 246.98 800 247.1 C823.67 247.22 868.33 247.27 882 247.3" fill="none" stroke="#000000" stroke-width="2.1" stroke-linejoin="round" clip-path="url(#c1)"/>
<path d="M316.2 119 L322.6 125.4 L316.2 131.8 L309.8 125.4 Z" fill="none" stroke="#000000" stroke-width="3.1" stroke-linejoin="miter"/>
<path d="M316.2 194 L322.6 200.4 L316.2 206.8 L309.8 200.4 Z" fill="none" stroke="#000000" stroke-width="3.1" stroke-linejoin="miter"/>
<line x1="134.9" y1="246.7" x2="883.1" y2="246.7" stroke="#000" stroke-width="2.2" stroke-linecap="butt"/>
<line x1="192.14" y1="239.7" x2="192.14" y2="253.7" stroke="#000" stroke-width="2" stroke-linecap="butt"/>
<line x1="224.98" y1="239.7" x2="224.98" y2="253.7" stroke="#000" stroke-width="2" stroke-linecap="butt"/>
<line x1="248.28" y1="239.7" x2="248.28" y2="253.7" stroke="#000" stroke-width="2" stroke-linecap="butt"/>
<line x1="266.36" y1="239.7" x2="266.36" y2="253.7" stroke="#000" stroke-width="2" stroke-linecap="butt"/>
<line x1="281.13" y1="239.7" x2="281.13" y2="253.7" stroke="#000" stroke-width="2" stroke-linecap="butt"/>
<line x1="293.61" y1="239.7" x2="293.61" y2="253.7" stroke="#000" stroke-width="2" stroke-linecap="butt"/>
<line x1="304.43" y1="239.7" x2="304.43" y2="253.7" stroke="#000" stroke-width="2" stroke-linecap="butt"/>
<line x1="313.97" y1="239.7" x2="313.97" y2="253.7" stroke="#000" stroke-width="2" stroke-linecap="butt"/>
<line x1="322.5" y1="232.7" x2="322.5" y2="260.7" stroke="#000" stroke-width="2" stroke-linecap="butt"/>
<line x1="378.64" y1="239.7" x2="378.64" y2="253.7" stroke="#000" stroke-width="2" stroke-linecap="butt"/>
<line x1="411.48" y1="239.7" x2="411.48" y2="253.7" stroke="#000" stroke-width="2" stroke-linecap="butt"/>
<line x1="434.78" y1="239.7" x2="434.78" y2="253.7" stroke="#000" stroke-width="2" stroke-linecap="butt"/>
<line x1="452.86" y1="239.7" x2="452.86" y2="253.7" stroke="#000" stroke-width="2" stroke-linecap="butt"/>
<line x1="467.63" y1="239.7" x2="467.63" y2="253.7" stroke="#000" stroke-width="2" stroke-linecap="butt"/>
<line x1="480.11" y1="239.7" x2="480.11" y2="253.7" stroke="#000" stroke-width="2" stroke-linecap="butt"/>
<line x1="490.93" y1="239.7" x2="490.93" y2="253.7" stroke="#000" stroke-width="2" stroke-linecap="butt"/>
<line x1="500.47" y1="239.7" x2="500.47" y2="253.7" stroke="#000" stroke-width="2" stroke-linecap="butt"/>
<line x1="509" y1="232.7" x2="509" y2="260.7" stroke="#000" stroke-width="2" stroke-linecap="butt"/>
<line x1="565.14" y1="239.7" x2="565.14" y2="253.7" stroke="#000" stroke-width="2" stroke-linecap="butt"/>
<line x1="597.98" y1="239.7" x2="597.98" y2="253.7" stroke="#000" stroke-width="2" stroke-linecap="butt"/>
<line x1="621.28" y1="239.7" x2="621.28" y2="253.7" stroke="#000" stroke-width="2" stroke-linecap="butt"/>
<line x1="639.36" y1="239.7" x2="639.36" y2="253.7" stroke="#000" stroke-width="2" stroke-linecap="butt"/>
<line x1="654.13" y1="239.7" x2="654.13" y2="253.7" stroke="#000" stroke-width="2" stroke-linecap="butt"/>
<line x1="666.61" y1="239.7" x2="666.61" y2="253.7" stroke="#000" stroke-width="2" stroke-linecap="butt"/>
<line x1="677.43" y1="239.7" x2="677.43" y2="253.7" stroke="#000" stroke-width="2" stroke-linecap="butt"/>
<line x1="686.97" y1="239.7" x2="686.97" y2="253.7" stroke="#000" stroke-width="2" stroke-linecap="butt"/>
<line x1="695.5" y1="232.7" x2="695.5" y2="260.7" stroke="#000" stroke-width="2" stroke-linecap="butt"/>
<line x1="751.64" y1="239.7" x2="751.64" y2="253.7" stroke="#000" stroke-width="2" stroke-linecap="butt"/>
<line x1="784.48" y1="239.7" x2="784.48" y2="253.7" stroke="#000" stroke-width="2" stroke-linecap="butt"/>
<line x1="807.78" y1="239.7" x2="807.78" y2="253.7" stroke="#000" stroke-width="2" stroke-linecap="butt"/>
<line x1="825.86" y1="239.7" x2="825.86" y2="253.7" stroke="#000" stroke-width="2" stroke-linecap="butt"/>
<line x1="840.63" y1="239.7" x2="840.63" y2="253.7" stroke="#000" stroke-width="2" stroke-linecap="butt"/>
<line x1="853.11" y1="239.7" x2="853.11" y2="253.7" stroke="#000" stroke-width="2" stroke-linecap="butt"/>
<line x1="863.93" y1="239.7" x2="863.93" y2="253.7" stroke="#000" stroke-width="2" stroke-linecap="butt"/>
<line x1="873.47" y1="239.7" x2="873.47" y2="253.7" stroke="#000" stroke-width="2" stroke-linecap="butt"/>
<path d="M136 428.8 C136.47 428.8 149.2 428.73 150 428.7 C150.8 428.67 159.47 428.06 160 428 C160.53 427.94 165.64 426.86 166 426.8 C166.36 426.74 170.37 426.2 170.7 426.2 C171.03 426.2 175.62 426.83 176 426.9 C176.38 426.97 181.37 428.23 182 428.3 C185.17 428.67 190.83 429.02 195 429.1 C199.17 429.18 203.6 429.02 207 428.8 C210.4 428.58 212.65 428.87 215.4 427.8 C218.15 426.73 221.03 424.3 223.5 422.4 C225.97 420.5 227.95 418.53 230.2 416.4 C232.45 414.27 234.75 411.85 237 409.6 C239.25 407.35 241.45 405.03 243.7 402.9 C245.95 400.77 248.25 398.72 250.5 396.8 C252.75 394.88 254.95 393.02 257.2 391.4 C259.45 389.78 261.75 388.27 264 387.1 C266.25 385.93 268.57 384.98 270.7 384.4 C272.83 383.82 274.77 383.6 276.8 383.6 C278.83 383.6 280.77 383.88 282.9 384.4 C285.03 384.92 287.35 385.77 289.6 386.7 C291.85 387.63 294.15 388.8 296.4 390 C298.65 391.2 301.38 392.77 303.1 393.9 C304.82 395.03 304.97 395.5 306.7 396.8 C308.43 398.1 311.25 400.32 313.5 401.7 C315.75 403.08 317.95 404.08 320.2 405.1 C322.45 406.12 324.75 406.9 327 407.8 C329.25 408.7 331.45 409.65 333.7 410.5 C335.95 411.35 338.25 412.22 340.5 412.9 C342.75 413.58 344.95 414.05 347.2 414.6 C349.45 415.15 351.75 415.72 354 416.2 C356.25 416.68 358.45 417.1 360.7 417.5 C362.95 417.9 364.12 418.08 367.5 418.6 C370.88 419.12 375.58 419.97 381 420.6 C386.42 421.23 393.5 421.87 400 422.4 C406.5 422.93 409.78 423.35 420 423.8 C430.22 424.25 444.63 424.68 461.3 425.1 C477.97 425.52 500.22 426 520 426.3 C539.78 426.6 550 426.7 580 426.9 C610 427.1 649.67 427.35 700 427.5 C750.33 427.65 851.67 427.75 882 427.8" fill="none" stroke="#540ca0" stroke-width="2.1" stroke-linejoin="round" clip-path="url(#c2)"/>
<path d="M136 432.5 C136.47 432.48 149.03 432.05 150 432 C150.97 431.95 164 431.03 165 431 C166 430.97 178.83 430.97 180 431 C185.83 431.17 194.17 431.83 200 432 C205.83 432.17 211.98 432.02 215 432 C218.02 431.98 216.02 432.6 218.1 431.9 C220.18 431.2 224.35 429.38 227.5 427.8 C230.65 426.22 234.3 424.08 237 422.4 C239.7 420.72 241.45 419.27 243.7 417.7 C245.95 416.13 248.25 414.68 250.5 413 C252.75 411.32 254.95 409.63 257.2 407.6 C259.45 405.57 261.75 403.17 264 400.8 C266.25 398.43 268.45 395.87 270.7 393.4 C272.95 390.93 275.25 388.47 277.5 386 C279.75 383.53 281.95 381.08 284.2 378.6 C286.45 376.12 288.75 373.47 291 371.1 C293.25 368.73 295.78 366.13 297.7 364.4 C299.62 362.67 301.22 361.6 302.5 360.7 C303.78 359.8 304.02 359.68 305.4 359 C306.78 358.32 309.23 357.05 310.8 356.6 C312.37 356.15 313.23 356.08 314.8 356.3 C316.37 356.52 318.17 356.85 320.2 357.9 C322.23 358.95 324.75 360.68 327 362.6 C329.25 364.52 331.45 367.03 333.7 369.4 C335.95 371.77 338.25 374.33 340.5 376.8 C342.75 379.27 344.95 381.83 347.2 384.2 C349.45 386.57 351.75 388.87 354 391 C356.25 393.13 358.45 395.22 360.7 397 C362.95 398.78 365.25 400.23 367.5 401.7 C369.75 403.17 371.95 404.67 374.2 405.8 C376.45 406.93 378.75 407.67 381 408.5 C383.25 409.33 385.45 410.13 387.7 410.8 C389.95 411.47 392.45 412.05 394.5 412.5 C396.55 412.95 397.32 412.8 400 413.5 C402.68 414.2 407.27 415.95 410.6 416.7 C413.93 417.45 415.83 417.5 420 418 C424.17 418.5 428.72 418.98 435.6 419.7 C442.48 420.42 447.23 421.45 461.3 422.3 C475.37 423.15 500.22 424.17 520 424.8 C539.78 425.43 550 425.68 580 426.1 C610 426.52 649.67 427.02 700 427.3 C750.33 427.58 851.67 427.72 882 427.8" fill="none" stroke="#1482ff" stroke-width="2.1" stroke-linejoin="round" clip-path="url(#c2)"/>
<path d="M136 431.1 C136.63 431.09 153.8 430.72 155 430.7 C156.2 430.68 170.97 430.42 172 430.5 C173.03 430.58 185.07 433.05 186 433.2 C190.67 433.97 196 434.77 200 435.1 C204 435.43 206.98 435.12 210 435.2 C213.02 435.28 215.4 435.82 218.1 435.6 C220.8 435.38 223.05 434.63 226.2 433.9 C229.35 433.17 233.18 432.2 237 431.2 C240.82 430.2 245.73 429.13 249.1 427.9 C252.47 426.67 254.72 425.17 257.2 423.8 C259.68 422.43 261.75 421.17 264 419.7 C266.25 418.23 268.45 416.68 270.7 415 C272.95 413.32 275.25 411.52 277.5 409.6 C279.75 407.68 281.95 405.42 284.2 403.5 C286.45 401.58 288.75 399.9 291 398.1 C293.25 396.3 295.45 394.7 297.7 392.7 C299.95 390.7 301.87 388.75 304.5 386.1 C307.13 383.45 310.88 379.25 313.5 376.8 C316.12 374.35 317.95 373.08 320.2 371.4 C322.45 369.72 324.75 368.5 327 366.7 C329.25 364.9 331.45 362.97 333.7 360.6 C335.95 358.23 338.25 355.2 340.5 352.5 C342.75 349.8 344.95 346.77 347.2 344.4 C349.45 342.03 351.75 339.77 354 338.3 C356.25 336.83 358.68 335.88 360.7 335.6 C362.72 335.32 364.3 335.7 366.1 336.6 C367.9 337.5 369.7 339.13 371.5 341 C373.3 342.87 375.1 345.32 376.9 347.8 C378.7 350.28 380.5 353.2 382.3 355.9 C384.1 358.6 385.9 361.3 387.7 364 C389.5 366.7 391.6 369.98 393.1 372.1 C394.6 374.22 394.97 374.62 396.7 376.7 C398.43 378.78 401.25 382.17 403.5 384.6 C405.75 387.03 408.28 389.48 410.2 391.3 C412.12 393.12 413.75 394.18 415 395.5 C416.25 396.82 415.97 397.73 417.7 399.2 C419.43 400.67 422.42 402.58 425.4 404.3 C428.38 406.02 431.75 408 435.6 409.5 C439.45 411 444.22 412.23 448.5 413.3 C452.78 414.37 454.9 415.05 461.3 415.9 C467.7 416.75 478.35 417.42 486.9 418.4 C495.45 419.38 497.08 420.63 512.6 421.8 C528.12 422.97 548.77 424.5 580 425.4 C611.23 426.3 649.67 426.8 700 427.2 C750.33 427.6 851.67 427.7 882 427.8" fill="none" stroke="#1ef50a" stroke-width="2.1" stroke-linejoin="round" clip-path="url(#c2)"/>
<path d="M136 430.2 C136.8 430.2 158.33 430.27 160 430.3 C161.67 430.33 184.67 431 186 431.1 C192.67 431.58 196 432.85 200 433.2 C204 433.55 206.08 433.02 210 433.2 C213.92 433.38 219 434.18 223.5 434.3 C228 434.42 232.5 434.2 237 433.9 C241.5 433.6 246 433.07 250.5 432.5 C255 431.93 259.95 431.2 264 430.5 C268.05 429.8 271.43 429.2 274.8 428.3 C278.17 427.4 281.5 426.03 284.2 425.1 C286.9 424.17 288.75 423.53 291 422.7 C293.25 421.87 295.45 420.95 297.7 420.1 C299.95 419.25 301.87 418.57 304.5 417.6 C307.13 416.63 310.88 415.32 313.5 414.3 C316.12 413.28 317.95 412.47 320.2 411.5 C322.45 410.53 324.75 409.57 327 408.5 C329.25 407.43 331.45 406.23 333.7 405.1 C335.95 403.97 338.25 402.93 340.5 401.7 C342.75 400.47 344.95 399.15 347.2 397.7 C349.45 396.25 351.75 394.8 354 393 C356.25 391.2 358.45 388.58 360.7 386.9 C362.95 385.22 365.25 384.37 367.5 382.9 C369.75 381.43 371.95 380.25 374.2 378.1 C376.45 375.95 378.75 372.8 381 370 C383.25 367.2 385.95 363.35 387.7 361.3 C389.45 359.25 390.22 358.77 391.5 357.7 C392.78 356.63 393.85 355.82 395.4 354.9 C396.95 353.98 399 353.22 400.8 352.2 C402.6 351.18 404.4 350.38 406.2 348.8 C408 347.22 409.8 345.07 411.6 342.7 C413.4 340.33 415.2 337.52 417 334.6 C418.8 331.68 420.6 328.35 422.4 325.2 C424.2 322.05 426 318.28 427.8 315.7 C429.6 313.12 431.63 310.93 433.2 309.7 C434.77 308.47 435.85 308.3 437.2 308.3 C438.55 308.3 439.95 308.8 441.3 309.7 C442.65 310.6 443.95 311.9 445.3 313.7 C446.65 315.5 448.05 317.92 449.4 320.5 C450.75 323.08 452.05 326.05 453.4 329.2 C454.75 332.35 456.15 336.02 457.5 339.4 C458.85 342.78 460.15 346.47 461.5 349.5 C462.85 352.53 464.02 354.9 465.6 357.6 C467.18 360.3 468.98 362.78 471 365.7 C473.02 368.62 475.45 372.18 477.7 375.1 C479.95 378.02 482.45 380.95 484.5 383.2 C486.55 385.45 487.88 386.35 490 388.6 C492.12 390.85 494.3 394.17 497.2 396.7 C500.1 399.23 503.6 401.75 507.4 403.8 C511.2 405.85 516.78 407.72 520 409 C523.22 410.28 524.45 410.63 526.7 411.5 C528.95 412.37 531.25 413.42 533.5 414.2 C535.75 414.98 537.95 415.58 540.2 416.2 C542.45 416.82 543.62 417.23 547 417.9 C550.38 418.57 556 419.52 560.5 420.2 C565 420.88 569.5 421.5 574 422 C578.5 422.5 583 422.87 587.5 423.2 C592 423.53 595.58 423.7 601 424 C606.42 424.3 610.17 424.58 620 425 C629.83 425.42 643.33 426.1 660 426.5 C676.67 426.9 683 427.18 720 427.4 C757 427.62 855 427.73 882 427.8" fill="none" stroke="#ff9600" stroke-width="2.1" stroke-linejoin="round" clip-path="url(#c2)"/>
<path d="M156.6 424.1 L163 430.5 L156.6 436.9 L150.2 430.5 Z" fill="none" stroke="#ff9600" stroke-width="3.1" stroke-linejoin="miter"/>
<path d="M136 429.3 C137.47 429.32 177.53 429.96 180 430 C192.33 430.2 202.75 430.3 210 430.5 C217.25 430.7 219 430.97 223.5 431.2 C228 431.43 232.5 431.78 237 431.9 C241.5 432.02 246 432.02 250.5 431.9 C255 431.78 259.5 431.47 264 431.2 C268.5 430.93 273 430.75 277.5 430.3 C282 429.85 286.5 429.13 291 428.5 C295.5 427.87 299.63 427.3 304.5 426.5 C309.37 425.7 316.45 424.38 320.2 423.7 C323.95 423.02 323.62 423.13 327 422.4 C330.38 421.67 336 420.43 340.5 419.3 C345 418.17 349.5 416.95 354 415.6 C358.5 414.25 363 412.83 367.5 411.2 C372 409.57 376.5 407.72 381 405.8 C385.5 403.88 391.33 401.15 394.5 399.7 C397.67 398.25 398.5 397.8 400 397.1 C401.5 396.4 401.8 396.35 403.5 395.5 C405.2 394.65 407.95 393.48 410.2 392 C412.45 390.52 414.75 388.4 417 386.6 C419.25 384.8 421.45 382.67 423.7 381.2 C425.95 379.73 428.25 379.15 430.5 377.8 C432.75 376.45 434.95 375.12 437.2 373.1 C439.45 371.08 441.97 368.52 444 365.7 C446.03 362.88 447.6 359.02 449.4 356.2 C451.2 353.38 453 350.48 454.8 348.8 C456.6 347.12 458.4 346.7 460.2 346.1 C462 345.5 463.8 345.98 465.6 345.2 C467.4 344.42 469.3 343.15 471 341.4 C472.7 339.65 474.17 337.55 475.8 334.7 C477.43 331.85 479.07 328.05 480.8 324.3 C482.53 320.55 484.4 316.25 486.2 312.2 C488 308.15 489.8 303.83 491.6 300 C493.4 296.17 495.43 292 497 289.2 C498.57 286.4 499.77 284.5 501 283.2 C502.23 281.9 503.27 281.4 504.4 281.4 C505.53 281.4 506.57 281.67 507.8 283.2 C509.03 284.73 510.45 287.57 511.8 290.6 C513.15 293.63 514.55 297.8 515.9 301.4 C517.25 305 518.55 308.38 519.9 312.2 C521.25 316.02 522.65 320.2 524 324.3 C525.35 328.4 526.87 333.3 528 336.8 C529.13 340.3 529.88 342.63 530.8 345.3 C531.72 347.97 532.38 349.87 533.5 352.8 C534.62 355.73 536.15 359.75 537.5 362.9 C538.85 366.05 540.02 368.67 541.6 371.7 C543.18 374.73 544.98 377.95 547 381.1 C549.02 384.25 551.45 387.78 553.7 390.6 C555.95 393.42 558.25 395.87 560.5 398 C562.75 400.13 564.95 401.78 567.2 403.4 C569.45 405.02 571.75 406.42 574 407.7 C576.25 408.98 578.45 410.08 580.7 411.1 C582.95 412.12 585.25 413.02 587.5 413.8 C589.75 414.58 591.95 415.18 594.2 415.8 C596.45 416.42 598.75 416.98 601 417.5 C603.25 418.02 605.45 418.48 607.7 418.9 C609.95 419.32 612.45 419.72 614.5 420 C616.55 420.28 617.93 420.13 620 420.6 C622.07 421.07 621.47 422.08 626.9 422.8 C632.33 423.52 637.08 424.22 652.6 424.9 C668.12 425.58 695.43 426.47 720 426.9 C744.57 427.33 773 427.35 800 427.5 C827 427.65 868.33 427.75 882 427.8" fill="none" stroke="#ff0a0a" stroke-width="2.1" stroke-linejoin="round" clip-path="url(#c2)"/>
<path d="M252.7 425.5 L259.1 431.9 L252.7 438.3 L246.3 431.9 Z" fill="none" stroke="#ff0a0a" stroke-width="3.1" stroke-linejoin="miter"/>
<path d="M136 427.9 C155 427.93 222.67 428.02 250 428.1 C277.33 428.18 288.98 428.35 300 428.4 C311.02 428.45 311.83 428.62 316.1 428.4 C320.37 428.18 321.77 427.58 325.6 427.1 C329.43 426.62 334.37 426.23 339.1 425.5 C343.83 424.77 349.27 423.62 354 422.7 C358.73 421.78 363 420.95 367.5 420 C372 419.05 376.5 418.02 381 417 C385.5 415.98 391.33 414.65 394.5 413.9 C397.67 413.15 397.42 413.08 400 412.5 C402.58 411.92 406.2 411.3 410 410.4 C413.8 409.5 418.53 408.53 422.8 407.1 C427.07 405.67 431.17 403.73 435.6 401.8 C440.03 399.87 445.75 397.07 449.4 395.5 C453.05 393.93 454.8 393.55 457.5 392.4 C460.2 391.25 463.35 389.9 465.6 388.6 C467.85 387.3 468.98 386.17 471 384.6 C473.02 383.03 475.45 380.9 477.7 379.2 C479.95 377.5 482.45 375.87 484.5 374.4 C486.55 372.93 488.17 372.13 490 370.4 C491.83 368.67 493.55 366.48 495.5 364 C497.45 361.52 499.88 358.07 501.7 355.5 C503.52 352.93 504.93 350.62 506.4 348.6 C507.87 346.58 509.15 344.68 510.5 343.4 C511.85 342.12 512.93 341.5 514.5 340.9 C516.07 340.3 518.1 340.65 519.9 339.8 C521.7 338.95 523.72 337.37 525.3 335.8 C526.88 334.23 528.05 332.77 529.4 330.4 C530.75 328.03 532.05 325.08 533.4 321.6 C534.75 318.12 536.15 313.77 537.5 309.5 C538.85 305.23 540.15 300.5 541.5 296 C542.85 291.5 544.25 286.67 545.6 282.5 C546.95 278.33 548.25 274.27 549.6 271 C550.95 267.73 552.47 264.92 553.7 262.9 C554.93 260.88 556.1 259.68 557 258.9 C557.9 258.12 558.3 257.98 559.1 258.2 C559.9 258.42 560.9 258.97 561.8 260.2 C562.7 261.43 563.6 263.47 564.5 265.6 C565.4 267.73 566.28 270.3 567.2 273 C568.12 275.7 568.6 276.88 570 281.8 C571.4 286.72 573.47 294.38 575.6 302.5 C577.73 310.62 581.27 324.72 582.8 330.5 C584.33 336.28 584.02 334.62 584.8 337.2 C585.58 339.78 586.6 343.18 587.5 346 C588.4 348.82 589.08 350.95 590.2 354.1 C591.32 357.25 592.85 361.63 594.2 364.9 C595.55 368.17 596.95 371 598.3 373.7 C599.65 376.4 600.95 378.73 602.3 381.1 C603.65 383.47 605.05 385.8 606.4 387.9 C607.75 390 609.05 391.9 610.4 393.7 C611.75 395.5 612.9 396.9 614.5 398.7 C616.1 400.5 617.93 402.7 620 404.5 C622.07 406.3 623.62 407.6 626.9 409.5 C630.18 411.4 635.42 414.2 639.7 415.9 C643.98 417.6 648.32 418.63 652.6 419.7 C656.88 420.77 661.13 421.57 665.4 422.3 C669.67 423.03 671.8 423.47 678.2 424.1 C684.6 424.73 693.5 425.6 703.8 426.1 C714.1 426.6 710.3 426.82 740 427.1 C769.7 427.38 858.33 427.68 882 427.8" fill="none" stroke="#000000" stroke-width="2.1" stroke-linejoin="round" clip-path="url(#c2)"/>
<path d="M316.1 421.8 L322.5 428.2 L316.1 434.6 L309.7 428.2 Z" fill="none" stroke="#000000" stroke-width="3.1" stroke-linejoin="miter"/>
<line x1="134.9" y1="445.8" x2="883.1" y2="445.8" stroke="#000" stroke-width="2.2" stroke-linecap="butt"/>
<line x1="192.14" y1="438.8" x2="192.14" y2="452.8" stroke="#000" stroke-width="2" stroke-linecap="butt"/>
<line x1="224.98" y1="438.8" x2="224.98" y2="452.8" stroke="#000" stroke-width="2" stroke-linecap="butt"/>
<line x1="248.28" y1="438.8" x2="248.28" y2="452.8" stroke="#000" stroke-width="2" stroke-linecap="butt"/>
<line x1="266.36" y1="438.8" x2="266.36" y2="452.8" stroke="#000" stroke-width="2" stroke-linecap="butt"/>
<line x1="281.13" y1="438.8" x2="281.13" y2="452.8" stroke="#000" stroke-width="2" stroke-linecap="butt"/>
<line x1="293.61" y1="438.8" x2="293.61" y2="452.8" stroke="#000" stroke-width="2" stroke-linecap="butt"/>
<line x1="304.43" y1="438.8" x2="304.43" y2="452.8" stroke="#000" stroke-width="2" stroke-linecap="butt"/>
<line x1="313.97" y1="438.8" x2="313.97" y2="452.8" stroke="#000" stroke-width="2" stroke-linecap="butt"/>
<line x1="322.5" y1="431.8" x2="322.5" y2="459.8" stroke="#000" stroke-width="2" stroke-linecap="butt"/>
<line x1="378.64" y1="438.8" x2="378.64" y2="452.8" stroke="#000" stroke-width="2" stroke-linecap="butt"/>
<line x1="411.48" y1="438.8" x2="411.48" y2="452.8" stroke="#000" stroke-width="2" stroke-linecap="butt"/>
<line x1="434.78" y1="438.8" x2="434.78" y2="452.8" stroke="#000" stroke-width="2" stroke-linecap="butt"/>
<line x1="452.86" y1="438.8" x2="452.86" y2="452.8" stroke="#000" stroke-width="2" stroke-linecap="butt"/>
<line x1="467.63" y1="438.8" x2="467.63" y2="452.8" stroke="#000" stroke-width="2" stroke-linecap="butt"/>
<line x1="480.11" y1="438.8" x2="480.11" y2="452.8" stroke="#000" stroke-width="2" stroke-linecap="butt"/>
<line x1="490.93" y1="438.8" x2="490.93" y2="452.8" stroke="#000" stroke-width="2" stroke-linecap="butt"/>
<line x1="500.47" y1="438.8" x2="500.47" y2="452.8" stroke="#000" stroke-width="2" stroke-linecap="butt"/>
<line x1="509" y1="431.8" x2="509" y2="459.8" stroke="#000" stroke-width="2" stroke-linecap="butt"/>
<line x1="565.14" y1="438.8" x2="565.14" y2="452.8" stroke="#000" stroke-width="2" stroke-linecap="butt"/>
<line x1="597.98" y1="438.8" x2="597.98" y2="452.8" stroke="#000" stroke-width="2" stroke-linecap="butt"/>
<line x1="621.28" y1="438.8" x2="621.28" y2="452.8" stroke="#000" stroke-width="2" stroke-linecap="butt"/>
<line x1="639.36" y1="438.8" x2="639.36" y2="452.8" stroke="#000" stroke-width="2" stroke-linecap="butt"/>
<line x1="654.13" y1="438.8" x2="654.13" y2="452.8" stroke="#000" stroke-width="2" stroke-linecap="butt"/>
<line x1="666.61" y1="438.8" x2="666.61" y2="452.8" stroke="#000" stroke-width="2" stroke-linecap="butt"/>
<line x1="677.43" y1="438.8" x2="677.43" y2="452.8" stroke="#000" stroke-width="2" stroke-linecap="butt"/>
<line x1="686.97" y1="438.8" x2="686.97" y2="452.8" stroke="#000" stroke-width="2" stroke-linecap="butt"/>
<line x1="695.5" y1="431.8" x2="695.5" y2="459.8" stroke="#000" stroke-width="2" stroke-linecap="butt"/>
<line x1="751.64" y1="438.8" x2="751.64" y2="452.8" stroke="#000" stroke-width="2" stroke-linecap="butt"/>
<line x1="784.48" y1="438.8" x2="784.48" y2="452.8" stroke="#000" stroke-width="2" stroke-linecap="butt"/>
<line x1="807.78" y1="438.8" x2="807.78" y2="452.8" stroke="#000" stroke-width="2" stroke-linecap="butt"/>
<line x1="825.86" y1="438.8" x2="825.86" y2="452.8" stroke="#000" stroke-width="2" stroke-linecap="butt"/>
<line x1="840.63" y1="438.8" x2="840.63" y2="452.8" stroke="#000" stroke-width="2" stroke-linecap="butt"/>
<line x1="853.11" y1="438.8" x2="853.11" y2="452.8" stroke="#000" stroke-width="2" stroke-linecap="butt"/>
<line x1="863.93" y1="438.8" x2="863.93" y2="452.8" stroke="#000" stroke-width="2" stroke-linecap="butt"/>
<line x1="873.47" y1="438.8" x2="873.47" y2="452.8" stroke="#000" stroke-width="2" stroke-linecap="butt"/>
<path d="M136 626.5 C136.47 626.49 149.2 626.35 150 626.3 C150.8 626.25 159.47 625.19 160 625.1 C160.53 625.01 165.64 623.77 166 623.7 C166.36 623.63 170.37 623 170.7 623 C171.03 623 175.62 623.62 176 623.7 C176.38 623.78 181.37 625.21 182 625.3 C185.17 625.77 190.83 626.37 195 626.5 C199.17 626.63 203.47 626.38 207 626.1 C210.53 625.82 213.77 625.57 216.2 624.8 C218.63 624.03 219.8 622.73 221.6 621.5 C223.4 620.27 224.98 619.2 227 617.4 C229.02 615.6 231.45 613.28 233.7 610.7 C235.95 608.12 238.25 604.93 240.5 601.9 C242.75 598.87 244.95 595.93 247.2 592.5 C249.45 589.07 251.75 585.07 254 581.3 C256.25 577.53 258.45 573.7 260.7 569.9 C262.95 566.1 265.25 561.98 267.5 558.5 C269.75 555.02 271.95 551.87 274.2 549 C276.45 546.13 279.42 543.12 281 541.3 C282.58 539.48 282.12 539.68 283.7 538.1 C285.28 536.52 288.25 533.62 290.5 531.8 C292.75 529.98 294.95 528.52 297.2 527.2 C299.45 525.88 301.75 524.78 304 523.9 C306.25 523.02 308.45 522.52 310.7 521.9 C312.95 521.28 315.25 520.72 317.5 520.2 C319.75 519.68 321.95 519.25 324.2 518.8 C326.45 518.35 328.75 517.88 331 517.5 C333.25 517.12 335.45 516.8 337.7 516.5 C339.95 516.2 342.45 515.92 344.5 515.7 C346.55 515.48 347.33 515.52 350 515.2 C352.67 514.88 356.5 514.3 360.5 513.8 C364.5 513.3 369.5 512.7 374 512.2 C378.5 511.7 383 511.2 387.5 510.8 C392 510.4 397.25 509.98 401 509.8 C404.75 509.62 405.67 510.17 410 509.7 C414.33 509.23 419.67 507.8 427 507 C434.33 506.2 447.25 505.4 454 504.9 C460.75 504.4 463 504.45 467.5 504 C472 503.55 476.67 502.88 481 502.2 C485.33 501.52 489.17 500.6 493.5 499.9 C497.83 499.2 502.5 498.52 507 498 C511.5 497.48 516 497.15 520.5 496.8 C525 496.45 529.5 496.23 534 495.9 C538.5 495.57 543 495.13 547.5 494.8 C552 494.47 555.58 494.28 561 493.9 C566.42 493.52 574.05 493.02 580 492.5 C585.95 491.98 587.8 491.48 596.7 490.8 C605.6 490.12 621.18 489.08 633.4 488.4 C645.62 487.72 657.78 487.17 670 486.7 C682.22 486.23 692.25 485.9 706.7 485.6 C721.15 485.3 742.25 485.08 756.7 484.9 C771.15 484.72 772.52 484.65 793.4 484.5 C814.28 484.35 867.23 484.08 882 484" fill="none" stroke="#540ca0" stroke-width="2.1" stroke-linejoin="round" clip-path="url(#c3)"/>
<path d="M136 630.5 C136.47 630.49 149.03 630.15 150 630.1 C150.97 630.05 164 628.95 165 628.9 C166 628.85 178.83 628.68 180 628.7 C185.83 628.8 194.17 629.43 200 629.5 C205.83 629.57 211.33 629.53 215 629.1 C218.67 628.67 219.78 627.62 222 626.9 C224.22 626.18 226.35 625.6 228.3 624.8 C230.25 624 231.67 623.1 233.7 622.1 C235.73 621.1 238.25 620.03 240.5 618.8 C242.75 617.57 244.95 616.05 247.2 614.7 C249.45 613.35 251.75 612.15 254 610.7 C256.25 609.25 258.45 607.68 260.7 606 C262.95 604.32 265.25 602.52 267.5 600.6 C269.75 598.68 271.95 596.73 274.2 594.5 C276.45 592.27 278.75 589.82 281 587.2 C283.25 584.58 285.45 581.87 287.7 578.8 C289.95 575.73 292.45 571.95 294.5 568.8 C296.55 565.65 298.42 562.48 300 559.9 C301.58 557.32 302.22 556.1 304 553.3 C305.78 550.5 308.45 546.25 310.7 543.1 C312.95 539.95 315.25 536.95 317.5 534.4 C319.75 531.85 321.95 529.78 324.2 527.8 C326.45 525.82 328.75 523.95 331 522.5 C333.25 521.05 335.45 520.08 337.7 519.1 C339.95 518.12 342.45 517.23 344.5 516.6 C346.55 515.97 347.33 515.77 350 515.3 C352.67 514.83 356.5 514.32 360.5 513.8 C364.5 513.28 369.5 512.7 374 512.2 C378.5 511.7 383 511.2 387.5 510.8 C392 510.4 397.25 509.95 401 509.8 C404.75 509.65 405.67 510.37 410 509.9 C414.33 509.43 419.67 507.83 427 507 C434.33 506.17 447.25 505.4 454 504.9 C460.75 504.4 463 504.45 467.5 504 C472 503.55 476.67 502.88 481 502.2 C485.33 501.52 489.17 500.6 493.5 499.9 C497.83 499.2 502.5 498.52 507 498 C511.5 497.48 516 497.15 520.5 496.8 C525 496.45 529.5 496.23 534 495.9 C538.5 495.57 543 495.13 547.5 494.8 C552 494.47 555.58 494.28 561 493.9 C566.42 493.52 574.05 493.02 580 492.5 C585.95 491.98 587.8 491.48 596.7 490.8 C605.6 490.12 621.18 489.08 633.4 488.4 C645.62 487.72 657.78 487.17 670 486.7 C682.22 486.23 692.25 485.9 706.7 485.6 C721.15 485.3 742.25 485.08 756.7 484.9 C771.15 484.72 772.52 484.65 793.4 484.5 C814.28 484.35 867.23 484.08 882 484" fill="none" stroke="#1482ff" stroke-width="2.1" stroke-linejoin="round" clip-path="url(#c3)"/>
<path d="M136 628.4 C136.63 628.39 153.8 628.02 155 628 C156.2 627.98 170.97 627.62 172 627.7 C173.03 627.78 185.07 630.35 186 630.5 C190.67 631.27 195.42 631.97 200 632.3 C204.58 632.63 209 632.73 213.5 632.5 C218 632.27 222.5 631.62 227 630.9 C231.5 630.18 236.9 629.17 240.5 628.2 C244.1 627.23 245.9 626.22 248.6 625.1 C251.3 623.98 254 622.73 256.7 621.5 C259.4 620.27 262.1 619.05 264.8 617.7 C267.5 616.35 270.2 614.9 272.9 613.4 C275.6 611.9 278.3 610.28 281 608.7 C283.7 607.12 285.93 605.68 289.1 603.9 C292.27 602.12 296.4 600.15 300 598 C303.6 595.85 307.78 592.87 310.7 591 C313.62 589.13 315.25 588.25 317.5 586.8 C319.75 585.35 321.95 583.85 324.2 582.3 C326.45 580.75 328.75 579.43 331 577.5 C333.25 575.57 335.45 573.5 337.7 570.7 C339.95 567.9 342.45 564.15 344.5 560.7 C346.55 557.25 348.47 552.82 350 550 C351.53 547.18 351.95 546.63 353.7 543.8 C355.45 540.97 358.25 536.27 360.5 533 C362.75 529.73 364.95 526.67 367.2 524.2 C369.45 521.73 371.75 519.88 374 518.2 C376.25 516.52 378.45 515.23 380.7 514.1 C382.95 512.97 385.25 512.12 387.5 511.4 C389.75 510.68 391.95 510.2 394.2 509.8 C396.45 509.4 398.75 509.22 401 509 C403.25 508.78 405.45 508.67 407.7 508.5 C409.95 508.33 412.45 508.15 414.5 508 C416.55 507.85 417.92 507.77 420 507.6 C422.08 507.43 421.33 507.45 427 507 C432.67 506.55 447.25 505.4 454 504.9 C460.75 504.4 463 504.45 467.5 504 C472 503.55 476.67 502.88 481 502.2 C485.33 501.52 489.17 500.6 493.5 499.9 C497.83 499.2 502.5 498.52 507 498 C511.5 497.48 516 497.15 520.5 496.8 C525 496.45 529.5 496.23 534 495.9 C538.5 495.57 543 495.13 547.5 494.8 C552 494.47 555.58 494.28 561 493.9 C566.42 493.52 574.05 493.02 580 492.5 C585.95 491.98 587.8 491.48 596.7 490.8 C605.6 490.12 621.18 489.08 633.4 488.4 C645.62 487.72 657.78 487.17 670 486.7 C682.22 486.23 692.25 485.9 706.7 485.6 C721.15 485.3 742.25 485.08 756.7 484.9 C771.15 484.72 772.52 484.65 793.4 484.5 C814.28 484.35 867.23 484.08 882 484" fill="none" stroke="#1ef50a" stroke-width="2.1" stroke-linejoin="round" clip-path="url(#c3)"/>
<path d="M136 627.3 C136.8 627.31 158.33 627.46 160 627.5 C161.67 627.54 184.67 628.31 186 628.4 C192.67 628.83 195.3 629.68 200 630.1 C204.7 630.52 209.5 630.83 214.2 630.9 C218.9 630.97 223.53 630.68 228.2 630.5 C232.87 630.32 237.57 630.2 242.2 629.8 C246.83 629.4 251.7 628.68 256 628.1 C260.3 627.52 263.83 626.85 268 626.3 C272.17 625.75 277.48 625.5 281 624.8 C284.52 624.1 285.93 623.1 289.1 622.1 C292.27 621.1 297.38 619.55 300 618.8 C302.62 618.05 302.2 618.42 304.8 617.6 C307.4 616.78 312 615.08 315.6 613.9 C319.2 612.72 322.8 611.68 326.4 610.5 C330 609.32 333.6 608.02 337.2 606.8 C340.8 605.58 344.4 604.82 348 603.2 C351.6 601.58 355.2 598.83 358.8 597.1 C362.4 595.37 366.95 593.9 369.6 592.8 C372.25 591.7 372.85 591.7 374.7 590.5 C376.55 589.3 378.57 587.25 380.7 585.6 C382.83 583.95 385.25 581.95 387.5 580.6 C389.75 579.25 392.03 578.27 394.2 577.5 C396.37 576.73 398.42 576.85 400.5 576 C402.58 575.15 404.53 574.35 406.7 572.4 C408.87 570.45 411.25 567.47 413.5 564.3 C415.75 561.13 417.95 557.15 420.2 553.4 C422.45 549.65 424.75 545.53 427 541.8 C429.25 538.07 431.45 534.33 433.7 531 C435.95 527.67 438.25 524.5 440.5 521.8 C442.75 519.1 444.95 516.78 447.2 514.8 C449.45 512.82 451.75 511.18 454 509.9 C456.25 508.62 458.45 507.85 460.7 507.1 C462.95 506.35 465.25 505.9 467.5 505.4 C469.75 504.9 471.95 504.45 474.2 504.1 C476.45 503.75 478.75 503.6 481 503.3 C483.25 503 485.45 502.62 487.7 502.3 C489.95 501.98 492.45 501.63 494.5 501.4 C496.55 501.17 497.92 501.03 500 500.9 C502.08 500.77 503.58 500.77 507 500.6 C510.42 500.43 516 500.17 520.5 499.9 C525 499.63 529.5 499.33 534 499 C538.5 498.67 543 498.27 547.5 497.9 C552 497.53 557.25 497.25 561 496.8 C564.75 496.35 564.05 495.83 570 495.2 C575.95 494.57 586.13 493.9 596.7 493 C607.27 492.1 621.18 490.63 633.4 489.8 C645.62 488.97 657.78 488.55 670 488 C682.22 487.45 696.7 486.87 706.7 486.5 C716.7 486.13 721.67 485.97 730 485.8 C738.33 485.63 746.13 485.63 756.7 485.5 C767.27 485.37 781.18 485.17 793.4 485 C805.62 484.83 815.23 484.65 830 484.5 C844.77 484.35 873.33 484.17 882 484.1" fill="none" stroke="#ff9600" stroke-width="2.1" stroke-linejoin="round" clip-path="url(#c3)"/>
<path d="M156.6 621.1 L163 627.5 L156.6 633.9 L150.2 627.5 Z" fill="none" stroke="#ff9600" stroke-width="3.1" stroke-linejoin="miter"/>
<path d="M136 626.7 C137.47 626.73 177.35 627.45 180 627.5 C193.27 627.73 205.6 627.83 215.6 628.1 C225.6 628.37 233.77 628.87 240 629.1 C246.23 629.33 249.4 629.43 253 629.5 C256.6 629.57 256.57 629.75 261.6 629.5 C266.63 629.25 276 628.8 283.2 628 C290.4 627.2 297.6 625.88 304.8 624.7 C312 623.52 319.2 622.37 326.4 620.9 C333.6 619.43 340.8 617.63 348 615.9 C355.2 614.17 362.4 612.37 369.6 610.5 C376.8 608.63 386.13 606.03 391.2 604.7 C396.27 603.37 396.73 603.58 400 602.5 C403.27 601.42 407.2 599.82 410.8 598.2 C414.4 596.58 418.78 594.08 421.6 592.8 C424.42 591.52 425.68 591.32 427.7 590.5 C429.72 589.68 431.57 588.93 433.7 587.9 C435.83 586.87 438.25 585.8 440.5 584.3 C442.75 582.8 444.95 580.55 447.2 578.9 C449.45 577.25 451.97 575.45 454 574.4 C456.03 573.35 457.6 573.02 459.4 572.6 C461.2 572.18 463 572.42 464.8 571.9 C466.6 571.38 468.4 570.8 470.2 569.5 C472 568.2 473.88 566.12 475.6 564.1 C477.32 562.08 478.87 560.13 480.5 557.4 C482.13 554.67 483.68 551.15 485.4 547.7 C487.12 544.25 489 540.23 490.8 536.7 C492.6 533.17 494.4 529.7 496.2 526.5 C498 523.3 499.8 520.02 501.6 517.5 C503.4 514.98 504.98 513.32 507 511.4 C509.02 509.48 511.45 507.38 513.7 506 C515.95 504.62 518.25 503.82 520.5 503.1 C522.75 502.38 524.95 502 527.2 501.7 C529.45 501.4 530.62 501.32 534 501.3 C537.38 501.28 543 501.55 547.5 501.6 C552 501.65 556.5 501.68 561 501.6 C565.5 501.52 571.62 501.17 574.5 501.1 C577.38 501.03 574.6 501.45 578.3 501.2 C582 500.95 590.58 500.27 596.7 499.6 C602.82 498.93 608.88 498 615 497.2 C621.12 496.4 627.28 495.57 633.4 494.8 C639.52 494.03 645.6 493.27 651.7 492.6 C657.8 491.93 663.88 491.35 670 490.8 C676.12 490.25 682.28 489.77 688.4 489.3 C694.52 488.83 699.77 488.4 706.7 488 C713.63 487.6 721.67 487.22 730 486.9 C738.33 486.58 746.13 486.37 756.7 486.1 C767.27 485.83 781.18 485.52 793.4 485.3 C805.62 485.08 815.23 484.98 830 484.8 C844.77 484.62 873.33 484.3 882 484.2" fill="none" stroke="#ff0a0a" stroke-width="2.1" stroke-linejoin="round" clip-path="url(#c3)"/>
<path d="M252.8 622.9 L259.2 629.3 L252.8 635.7 L246.4 629.3 Z" fill="none" stroke="#ff0a0a" stroke-width="3.1" stroke-linejoin="miter"/>
<path d="M136 625.3 C155 625.33 222.67 625.45 250 625.5 C277.33 625.55 289.07 625.58 300 625.6 C310.93 625.62 311.2 625.85 315.6 625.6 C320 625.35 321 624.72 326.4 624.1 C331.8 623.48 340.8 622.8 348 621.9 C355.2 621 362.4 619.85 369.6 618.7 C376.8 617.55 386.13 615.65 391.2 615 C396.27 614.35 396.73 615.18 400 614.8 C403.27 614.42 407.2 613.48 410.8 612.7 C414.4 611.92 418 611.08 421.6 610.1 C425.2 609.12 428.8 607.88 432.4 606.8 C436 605.72 439.6 604.85 443.2 603.6 C446.8 602.35 450.4 600.57 454 599.3 C457.6 598.03 461.2 597.47 464.8 596 C468.4 594.53 472.45 592 475.6 590.5 C478.75 589 481 588.33 483.7 587 C486.4 585.67 489.05 584.48 491.8 582.5 C494.55 580.52 497.67 577.28 500.2 575.1 C502.73 572.92 504.97 570.8 507 569.4 C509.03 568 510.6 567.32 512.4 566.7 C514.2 566.08 516 566.25 517.8 565.7 C519.6 565.15 521.4 564.57 523.2 563.4 C525 562.23 526.8 560.73 528.6 558.7 C530.4 556.67 532.2 553.9 534 551.2 C535.8 548.5 537.6 545.53 539.4 542.5 C541.2 539.47 543 536.15 544.8 533 C546.6 529.85 548.4 526.42 550.2 523.6 C552 520.78 553.8 518.25 555.6 516.1 C557.4 513.95 559.2 512.22 561 510.7 C562.8 509.18 564.6 508 566.4 507 C568.2 506 569.82 505.23 571.8 504.7 C573.78 504.17 575.68 503.83 578.3 503.8 C580.92 503.77 584.43 504.13 587.5 504.5 C590.57 504.87 593.65 505.6 596.7 506 C599.75 506.4 602.75 506.68 605.8 506.9 C608.85 507.12 611.93 507.23 615 507.3 C618.07 507.37 621.13 507.47 624.2 507.3 C627.27 507.13 630.35 506.67 633.4 506.3 C636.45 505.93 639.45 505.55 642.5 505.1 C645.55 504.65 647.12 504.32 651.7 503.6 C656.28 502.88 663.88 501.72 670 500.8 C676.12 499.88 682.28 498.92 688.4 498.1 C694.52 497.28 699.77 496.67 706.7 495.9 C713.63 495.13 721.67 494.35 730 493.5 C738.33 492.65 746.13 491.78 756.7 490.8 C767.27 489.82 781.18 488.43 793.4 487.6 C805.62 486.77 817.78 486.28 830 485.8 C842.22 485.32 858.03 484.95 866.7 484.7 C875.37 484.45 879.45 484.37 882 484.3" fill="none" stroke="#000000" stroke-width="2.1" stroke-linejoin="round" clip-path="url(#c3)"/>
<path d="M316 619 L322.4 625.4 L316 631.8 L309.6 625.4 Z" fill="none" stroke="#000000" stroke-width="3.1" stroke-linejoin="miter"/>
<path d="M116.6 198.77 L118.18 197.98 L120.56 195.6 L120.56 212.25" fill="none" stroke="#000" stroke-width="2" stroke-linecap="round" stroke-linejoin="round"/>
<path d="M115.01 155.16 L115.01 154.37 L115.81 152.78 L116.6 151.99 L118.18 151.2 L121.36 151.2 L122.94 151.99 L123.73 152.78 L124.53 154.37 L124.53 155.96 L123.73 157.54 L122.15 159.92 L114.22 167.85 L125.32 167.85" fill="none" stroke="#000" stroke-width="2" stroke-linecap="round" stroke-linejoin="round"/>
<path d="M115.81 106.8 L124.53 106.8 L119.77 113.14 L122.15 113.14 L123.73 113.93 L124.53 114.73 L125.32 117.11 L125.32 118.69 L124.53 121.07 L122.94 122.66 L120.56 123.45 L118.18 123.45 L115.81 122.66 L115.01 121.86 L114.22 120.28" fill="none" stroke="#000" stroke-width="2" stroke-linecap="round" stroke-linejoin="round"/>
<path d="M122.15 62.4 L114.22 73.5 L126.11 73.5 M122.15 62.4 L122.15 79.05" fill="none" stroke="#000" stroke-width="2" stroke-linecap="round" stroke-linejoin="round"/>
<path d="M118.98 230.05 L116.6 230.84 L115.01 233.22 L114.22 237.18 L114.22 239.56 L115.01 243.53 L116.6 245.91 L118.98 246.7 L120.56 246.7 L122.94 245.91 L124.53 243.53 L125.32 239.56 L125.32 237.18 L124.53 233.22 L122.94 230.84 L120.56 230.05 L118.98 230.05" fill="none" stroke="#000" stroke-width="2" stroke-linecap="round" stroke-linejoin="round"/>
<path d="M95.19 420.5 L92.81 421.29 L91.22 423.67 L90.43 427.63 L90.43 430.01 L91.22 433.98 L92.81 436.36 L95.19 437.15 L96.77 437.15 L99.15 436.36 L100.74 433.98 L101.53 430.01 L101.53 427.63 L100.74 423.67 L99.15 421.29 L96.77 420.5 L95.19 420.5 M107.88 435.56 L107.08 436.36 L107.88 437.15 L108.67 436.36 L107.88 435.56 M118.98 420.5 L116.6 421.29 L115.01 423.67 L114.22 427.63 L114.22 430.01 L115.01 433.98 L116.6 436.36 L118.98 437.15 L120.56 437.15 L122.94 436.36 L124.53 433.98 L125.32 430.01 L125.32 427.63 L124.53 423.67 L122.94 421.29 L120.56 420.5 L118.98 420.5" fill="none" stroke="#000" stroke-width="2" stroke-linecap="round" stroke-linejoin="round"/>
<path d="M95.19 374 L92.81 374.79 L91.22 377.17 L90.43 381.13 L90.43 383.51 L91.22 387.48 L92.81 389.86 L95.19 390.65 L96.77 390.65 L99.15 389.86 L100.74 387.48 L101.53 383.51 L101.53 381.13 L100.74 377.17 L99.15 374.79 L96.77 374 L95.19 374 M107.88 389.06 L107.08 389.86 L107.88 390.65 L108.67 389.86 L107.88 389.06 M123.73 374 L115.81 374 L115.01 381.13 L115.81 380.34 L118.18 379.55 L120.56 379.55 L122.94 380.34 L124.53 381.93 L125.32 384.31 L125.32 385.89 L124.53 388.27 L122.94 389.86 L120.56 390.65 L118.18 390.65 L115.81 389.86 L115.01 389.06 L114.22 387.48" fill="none" stroke="#000" stroke-width="2" stroke-linecap="round" stroke-linejoin="round"/>
<path d="M92.81 330.67 L94.39 329.88 L96.77 327.5 L96.77 344.15 M107.88 342.56 L107.08 343.36 L107.88 344.15 L108.67 343.36 L107.88 342.56 M118.98 327.5 L116.6 328.29 L115.01 330.67 L114.22 334.63 L114.22 337.01 L115.01 340.98 L116.6 343.36 L118.98 344.15 L120.56 344.15 L122.94 343.36 L124.53 340.98 L125.32 337.01 L125.32 334.63 L124.53 330.67 L122.94 328.29 L120.56 327.5 L118.98 327.5" fill="none" stroke="#000" stroke-width="2" stroke-linecap="round" stroke-linejoin="round"/>
<path d="M92.81 284.17 L94.39 283.38 L96.77 281 L96.77 297.65 M107.88 296.06 L107.08 296.86 L107.88 297.65 L108.67 296.86 L107.88 296.06 M123.73 281 L115.81 281 L115.01 288.13 L115.81 287.34 L118.18 286.55 L120.56 286.55 L122.94 287.34 L124.53 288.93 L125.32 291.31 L125.32 292.89 L124.53 295.27 L122.94 296.86 L120.56 297.65 L118.18 297.65 L115.81 296.86 L115.01 296.06 L114.22 294.48" fill="none" stroke="#000" stroke-width="2" stroke-linecap="round" stroke-linejoin="round"/>
<path d="M95.19 617.8 L92.81 618.59 L91.22 620.97 L90.43 624.93 L90.43 627.31 L91.22 631.28 L92.81 633.66 L95.19 634.45 L96.77 634.45 L99.15 633.66 L100.74 631.28 L101.53 627.31 L101.53 624.93 L100.74 620.97 L99.15 618.59 L96.77 617.8 L95.19 617.8 M107.88 632.86 L107.08 633.66 L107.88 634.45 L108.67 633.66 L107.88 632.86 M118.98 617.8 L116.6 618.59 L115.01 620.97 L114.22 624.93 L114.22 627.31 L115.01 631.28 L116.6 633.66 L118.98 634.45 L120.56 634.45 L122.94 633.66 L124.53 631.28 L125.32 627.31 L125.32 624.93 L124.53 620.97 L122.94 618.59 L120.56 617.8 L118.98 617.8" fill="none" stroke="#000" stroke-width="2" stroke-linecap="round" stroke-linejoin="round"/>
<path d="M95.19 572.56 L92.81 573.35 L91.22 575.73 L90.43 579.69 L90.43 582.07 L91.22 586.04 L92.81 588.42 L95.19 589.21 L96.77 589.21 L99.15 588.42 L100.74 586.04 L101.53 582.07 L101.53 579.69 L100.74 575.73 L99.15 573.35 L96.77 572.56 L95.19 572.56 M107.88 587.62 L107.08 588.42 L107.88 589.21 L108.67 588.42 L107.88 587.62 M115.01 576.52 L115.01 575.73 L115.81 574.14 L116.6 573.35 L118.18 572.56 L121.36 572.56 L122.94 573.35 L123.73 574.14 L124.53 575.73 L124.53 577.32 L123.73 578.9 L122.15 581.28 L114.22 589.21 L125.32 589.21" fill="none" stroke="#000" stroke-width="2" stroke-linecap="round" stroke-linejoin="round"/>
<path d="M95.19 527.32 L92.81 528.11 L91.22 530.49 L90.43 534.45 L90.43 536.83 L91.22 540.8 L92.81 543.18 L95.19 543.97 L96.77 543.97 L99.15 543.18 L100.74 540.8 L101.53 536.83 L101.53 534.45 L100.74 530.49 L99.15 528.11 L96.77 527.32 L95.19 527.32 M107.88 542.38 L107.08 543.18 L107.88 543.97 L108.67 543.18 L107.88 542.38 M122.15 527.32 L114.22 538.42 L126.11 538.42 M122.15 527.32 L122.15 543.97" fill="none" stroke="#000" stroke-width="2" stroke-linecap="round" stroke-linejoin="round"/>
<path d="M95.19 482.08 L92.81 482.87 L91.22 485.25 L90.43 489.21 L90.43 491.59 L91.22 495.56 L92.81 497.94 L95.19 498.73 L96.77 498.73 L99.15 497.94 L100.74 495.56 L101.53 491.59 L101.53 489.21 L100.74 485.25 L99.15 482.87 L96.77 482.08 L95.19 482.08 M107.88 497.14 L107.08 497.94 L107.88 498.73 L108.67 497.94 L107.88 497.14 M124.53 484.46 L123.73 482.87 L121.36 482.08 L119.77 482.08 L117.39 482.87 L115.81 485.25 L115.01 489.21 L115.01 493.18 L115.81 496.35 L117.39 497.94 L119.77 498.73 L120.56 498.73 L122.94 497.94 L124.53 496.35 L125.32 493.97 L125.32 493.18 L124.53 490.8 L122.94 489.21 L120.56 488.42 L119.77 488.42 L117.39 489.21 L115.81 490.8 L115.01 493.18" fill="none" stroke="#000" stroke-width="2" stroke-linecap="round" stroke-linejoin="round"/>
<path d="M123.31 664.45 L120.93 665.24 L119.35 667.62 L118.55 671.58 L118.55 673.96 L119.35 677.93 L120.93 680.31 L123.31 681.1 L124.9 681.1 L127.28 680.31 L128.86 677.93 L129.66 673.96 L129.66 671.58 L128.86 667.62 L127.28 665.24 L124.9 664.45 L123.31 664.45 M136 679.51 L135.21 680.31 L136 681.1 L136.79 680.31 L136 679.51 M144.72 667.62 L146.31 666.83 L148.69 664.45 L148.69 681.1" fill="none" stroke="#000" stroke-width="2" stroke-linecap="round" stroke-linejoin="round"/>
<path d="M307.43 667.62 L309.02 666.83 L311.4 664.45 L311.4 681.1 M322.5 679.51 L321.71 680.31 L322.5 681.1 L323.29 680.31 L322.5 679.51 M333.6 664.45 L331.22 665.24 L329.64 667.62 L328.84 671.58 L328.84 673.96 L329.64 677.93 L331.22 680.31 L333.6 681.1 L335.19 681.1 L337.57 680.31 L339.15 677.93 L339.95 673.96 L339.95 671.58 L339.15 667.62 L337.57 665.24 L335.19 664.45 L333.6 664.45" fill="none" stroke="#000" stroke-width="2" stroke-linecap="round" stroke-linejoin="round"/>
<path d="M486 667.62 L487.59 666.83 L489.97 664.45 L489.97 681.1 M504.24 664.45 L501.86 665.24 L500.28 667.62 L499.48 671.58 L499.48 673.96 L500.28 677.93 L501.86 680.31 L504.24 681.1 L505.83 681.1 L508.21 680.31 L509.79 677.93 L510.59 673.96 L510.59 671.58 L509.79 667.62 L508.21 665.24 L505.83 664.45 L504.24 664.45 M516.93 679.51 L516.14 680.31 L516.93 681.1 L517.72 680.31 L516.93 679.51 M528.03 664.45 L525.65 665.24 L524.07 667.62 L523.27 671.58 L523.27 673.96 L524.07 677.93 L525.65 680.31 L528.03 681.1 L529.62 681.1 L532 680.31 L533.58 677.93 L534.38 673.96 L534.38 671.58 L533.58 667.62 L532 665.24 L529.62 664.45 L528.03 664.45" fill="none" stroke="#000" stroke-width="2" stroke-linecap="round" stroke-linejoin="round"/>
<path d="M664.57 667.62 L666.16 666.83 L668.54 664.45 L668.54 681.1 M682.81 664.45 L680.43 665.24 L678.85 667.62 L678.05 671.58 L678.05 673.96 L678.85 677.93 L680.43 680.31 L682.81 681.1 L684.4 681.1 L686.78 680.31 L688.36 677.93 L689.16 673.96 L689.16 671.58 L688.36 667.62 L686.78 665.24 L684.4 664.45 L682.81 664.45 M698.67 664.45 L696.29 665.24 L694.71 667.62 L693.91 671.58 L693.91 673.96 L694.71 677.93 L696.29 680.31 L698.67 681.1 L700.26 681.1 L702.64 680.31 L704.22 677.93 L705.02 673.96 L705.02 671.58 L704.22 667.62 L702.64 665.24 L700.26 664.45 L698.67 664.45 M711.36 679.51 L710.57 680.31 L711.36 681.1 L712.15 680.31 L711.36 679.51 M722.46 664.45 L720.08 665.24 L718.5 667.62 L717.7 671.58 L717.7 673.96 L718.5 677.93 L720.08 680.31 L722.46 681.1 L724.05 681.1 L726.43 680.31 L728.01 677.93 L728.81 673.96 L728.81 671.58 L728.01 667.62 L726.43 665.24 L724.05 664.45 L722.46 664.45" fill="none" stroke="#000" stroke-width="2" stroke-linecap="round" stroke-linejoin="round"/>
<path d="M843.14 667.62 L844.73 666.83 L847.11 664.45 L847.11 681.1 M861.38 664.45 L859 665.24 L857.42 667.62 L856.62 671.58 L856.62 673.96 L857.42 677.93 L859 680.31 L861.38 681.1 L862.97 681.1 L865.35 680.31 L866.93 677.93 L867.73 673.96 L867.73 671.58 L866.93 667.62 L865.35 665.24 L862.97 664.45 L861.38 664.45 M877.24 664.45 L874.86 665.24 L873.28 667.62 L872.48 671.58 L872.48 673.96 L873.28 677.93 L874.86 680.31 L877.24 681.1 L878.83 681.1 L881.21 680.31 L882.79 677.93 L883.59 673.96 L883.59 671.58 L882.79 667.62 L881.21 665.24 L878.83 664.45 L877.24 664.45 M893.1 664.45 L890.72 665.24 L889.14 667.62 L888.34 671.58 L888.34 673.96 L889.14 677.93 L890.72 680.31 L893.1 681.1 L894.69 681.1 L897.07 680.31 L898.65 677.93 L899.45 673.96 L899.45 671.58 L898.65 667.62 L897.07 665.24 L894.69 664.45 L893.1 664.45 M905.79 679.51 L905 680.31 L905.79 681.1 L906.58 680.31 L905.79 679.51 M916.89 664.45 L914.51 665.24 L912.93 667.62 L912.13 671.58 L912.13 673.96 L912.93 677.93 L914.51 680.31 L916.89 681.1 L918.48 681.1 L920.86 680.31 L922.44 677.93 L923.24 673.96 L923.24 671.58 L922.44 667.62 L920.86 665.24 L918.48 664.45 L916.89 664.45" fill="none" stroke="#000" stroke-width="2" stroke-linecap="round" stroke-linejoin="round"/>
<path d="M498.38 691.97 L496.8 693.56 L495.21 695.94 L493.62 699.11 L492.83 703.08 L492.83 706.25 L493.62 710.21 L495.21 713.39 L496.8 715.76 L498.38 717.35 M521.77 700.7 L521.77 711.8 M521.77 703.87 L524.15 701.49 L525.74 700.7 L528.12 700.7 L529.71 701.49 L530.5 703.87 L530.5 711.8 M530.5 703.87 L532.88 701.49 L534.46 700.7 L536.84 700.7 L538.43 701.49 L539.22 703.87 L539.22 711.8 M544.77 691.97 L546.36 693.56 L547.94 695.94 L549.53 699.11 L550.32 703.08 L550.32 706.25 L549.53 710.21 L547.94 713.39 L546.36 715.76 L544.77 717.35" fill="none" stroke="#000" stroke-width="2.15" stroke-linecap="round" stroke-linejoin="round"/>
<path d="M464.52 696.57 L465.79 696.18 L467.06 696.73" fill="none" stroke="#000" stroke-width="2.15" stroke-linecap="round" stroke-linejoin="round"/>
<path d="M467.06 696.73 L468.25 698.32 L474.43 711.64" fill="none" stroke="#000" stroke-width="3.12" stroke-linecap="round" stroke-linejoin="round"/>
<path d="M468.88 703.47 L463.65 711.64" fill="none" stroke="#000" stroke-width="2.58" stroke-linecap="round" stroke-linejoin="round"/>
<path d="M506.47 702.05 L502.82 717.19" fill="none" stroke="#000" stroke-width="3.22" stroke-linecap="round" stroke-linejoin="round"/>
<path d="M506.31 702.05 L505.44 707.04 L505.36 709.42 L505.92 710.93 L507.34 711.64 L509.09 711.48 L511.07 710.21 L512.89 707.6" fill="none" stroke="#000" stroke-width="2.47" stroke-linecap="round" stroke-linejoin="round"/>
<path d="M514.88 702.05 L513.13 707.6 L512.81 709.74 L513.29 711.17 L514.4 711.64 L515.83 710.93 L517.57 708.39" fill="none" stroke="#000" stroke-width="2.79" stroke-linecap="round" stroke-linejoin="round"/>
<path d="M303.87 12.53 L296.11 32.9 M303.87 12.53 L311.63 32.9 M299.02 26.11 L308.72 26.11 M317.13 19.32 L317.13 32.9 M317.13 23.2 L320.04 20.29 L321.98 19.32 L324.89 19.32 L326.83 20.29 L327.8 23.2 L327.8 32.9 M327.8 23.2 L330.71 20.29 L332.65 19.32 L335.56 19.32 L337.5 20.29 L338.47 23.2 L338.47 32.9 M347.74 30.96 L346.77 31.93 L347.74 32.9 L348.71 31.93 L347.74 30.96 M386.42 17.38 L385.45 15.44 L383.51 13.5 L381.57 12.53 L377.69 12.53 L375.75 13.5 L373.81 15.44 L372.84 17.38 L371.87 20.29 L371.87 25.14 L372.84 28.05 L373.81 29.99 L375.75 31.93 L377.69 32.9 L381.57 32.9 L383.51 31.93 L385.45 29.99 L386.42 28.05 M404.42 19.32 L404.42 32.9 M404.42 22.23 L402.48 20.29 L400.54 19.32 L397.63 19.32 L395.69 20.29 L393.75 22.23 L392.78 25.14 L392.78 27.08 L393.75 29.99 L395.69 31.93 L397.63 32.9 L400.54 32.9 L402.48 31.93 L404.42 29.99 M412.61 19.32 L412.61 32.9 M412.61 25.14 L413.58 22.23 L415.52 20.29 L417.46 19.32 L420.37 19.32 M425.66 12.53 L425.66 32.9 M425.66 22.23 L427.6 20.29 L429.54 19.32 L432.45 19.32 L434.39 20.29 L436.33 22.23 L437.3 25.14 L437.3 27.08 L436.33 29.99 L434.39 31.93 L432.45 32.9 L429.54 32.9 L427.6 31.93 L425.66 29.99 M448.48 19.32 L446.54 20.29 L444.6 22.23 L443.63 25.14 L443.63 27.08 L444.6 29.99 L446.54 31.93 L448.48 32.9 L451.39 32.9 L453.33 31.93 L455.27 29.99 L456.24 27.08 L456.24 25.14 L455.27 22.23 L453.33 20.29 L451.39 19.32 L448.48 19.32 M463.54 19.32 L463.54 32.9 M463.54 23.2 L466.45 20.29 L468.39 19.32 L471.3 19.32 L473.24 20.29 L474.21 23.2 L474.21 32.9 M498.44 19.32 L498.44 39.69 M498.44 22.23 L500.38 20.29 L502.32 19.32 L505.23 19.32 L507.17 20.29 L509.11 22.23 L510.08 25.14 L510.08 27.08 L509.11 29.99 L507.17 31.93 L505.23 32.9 L502.32 32.9 L500.38 31.93 L498.44 29.99 M517.3 19.32 L517.3 32.9 M517.3 25.14 L518.27 22.23 L520.21 20.29 L522.15 19.32 L525.06 19.32 M534.22 19.32 L532.28 20.29 L530.34 22.23 L529.37 25.14 L529.37 27.08 L530.34 29.99 L532.28 31.93 L534.22 32.9 L537.13 32.9 L539.07 31.93 L541.01 29.99 L541.98 27.08 L541.98 25.14 L541.01 22.23 L539.07 20.29 L537.13 19.32 L534.22 19.32 M549.13 12.53 L549.13 32.9 M567.93 19.32 L567.93 32.9 M567.93 22.23 L565.99 20.29 L564.05 19.32 L561.14 19.32 L559.2 20.29 L557.26 22.23 L556.29 25.14 L556.29 27.08 L557.26 29.99 L559.2 31.93 L561.14 32.9 L564.05 32.9 L565.99 31.93 L567.93 29.99 M577.08 12.53 L577.08 29.02 L578.05 31.93 L579.99 32.9 L581.93 32.9 M574.17 19.32 L580.96 19.32 M587.18 25.14 L598.82 25.14 L598.82 23.2 L597.85 21.26 L596.88 20.29 L594.94 19.32 L592.03 19.32 L590.09 20.29 L588.15 22.23 L587.18 25.14 L587.18 27.08 L588.15 29.99 L590.09 31.93 L592.03 32.9 L594.94 32.9 L596.88 31.93 L598.82 29.99 M629.78 21.26 L628.33 20.1 L625.9 19.51 L623.48 20 L621.54 21.26 L620.28 23.2 L619.79 26.11 L620.28 29.02 L621.54 30.96 L623.48 32.32 L625.9 32.9 L628.33 32.51 L630.08 31.54 M619.79 26.11 L627.84 26.11 M638.11 21.26 L655.57 21.26 M638.11 27.08 L655.57 27.08 M665.89 16.41 L667.83 15.44 L670.74 12.53 L670.74 32.9 M699.44 8.65 L681.98 39.69 M706.8 12.53 L717.47 12.53 L711.65 20.29 L714.56 20.29 L716.5 21.26 L717.47 22.23 L718.44 25.14 L718.44 27.08 L717.47 29.99 L715.53 31.93 L712.62 32.9 L709.71 32.9 L706.8 31.93 L705.83 30.96 L704.86 29.02" fill="none" stroke="#000" stroke-width="2.15" stroke-linecap="round" stroke-linejoin="round"/>
<path d="M757.81 61.77 L755.45 62.56 L753.88 64.92 L753.09 68.86 L753.09 71.22 L753.88 75.15 L755.45 77.51 L757.81 78.3 L759.39 78.3 L761.75 77.51 L763.32 75.15 L764.11 71.22 L764.11 68.86 L763.32 64.92 L761.75 62.56 L759.39 61.77 L757.81 61.77 M770.6 76.73 L769.81 77.51 L770.6 78.3 L771.39 77.51 L770.6 76.73 M781.81 61.77 L779.45 62.56 L777.88 64.92 L777.09 68.86 L777.09 71.22 L777.88 75.15 L779.45 77.51 L781.81 78.3 L783.39 78.3 L785.75 77.51 L787.32 75.15 L788.11 71.22 L788.11 68.86 L787.32 64.92 L785.75 62.56 L783.39 61.77 L781.81 61.77 M802.54 61.77 L794.67 61.77 L793.88 68.86 L794.67 68.07 L797.03 67.28 L799.39 67.28 L801.75 68.07 L803.32 69.64 L804.11 72 L804.11 73.58 L803.32 75.94 L801.75 77.51 L799.39 78.3 L797.03 78.3 L794.67 77.51 L793.88 76.73 L793.09 75.15 M840.74 67.28 L840.74 78.3 M840.74 70.43 L843.1 68.07 L844.68 67.28 L847.04 67.28 L848.61 68.07 L849.4 70.43 L849.4 78.3 M849.4 70.43 L851.76 68.07 L853.34 67.28 L855.7 67.28 L857.27 68.07 L858.06 70.43 L858.06 78.3" fill="none" stroke="#540ca0" stroke-width="2.1" stroke-linecap="round" stroke-linejoin="round"/>
<path d="M825.21 68.62 L821.59 83.65" fill="none" stroke="#540ca0" stroke-width="3.15" stroke-linecap="round" stroke-linejoin="round"/>
<path d="M825.06 68.62 L824.19 73.58 L824.11 75.94 L824.66 77.43 L826.08 78.14 L827.81 77.99 L829.78 76.73 L831.59 74.13" fill="none" stroke="#540ca0" stroke-width="2.42" stroke-linecap="round" stroke-linejoin="round"/>
<path d="M833.55 68.62 L831.82 74.13 L831.51 76.25 L831.98 77.67 L833.08 78.14 L834.5 77.43 L836.23 74.92" fill="none" stroke="#540ca0" stroke-width="2.73" stroke-linecap="round" stroke-linejoin="round"/>
<path d="M757.81 88.22 L755.45 89.01 L753.88 91.37 L753.09 95.31 L753.09 97.67 L753.88 101.6 L755.45 103.96 L757.81 104.75 L759.39 104.75 L761.75 103.96 L763.32 101.6 L764.11 97.67 L764.11 95.31 L763.32 91.37 L761.75 89.01 L759.39 88.22 L757.81 88.22 M770.6 103.18 L769.81 103.96 L770.6 104.75 L771.39 103.96 L770.6 103.18 M779.45 91.37 L781.03 90.58 L783.39 88.22 L783.39 104.75 M824.74 93.73 L824.74 104.75 M824.74 96.88 L827.1 94.52 L828.68 93.73 L831.04 93.73 L832.61 94.52 L833.4 96.88 L833.4 104.75 M833.4 96.88 L835.76 94.52 L837.34 93.73 L839.7 93.73 L841.27 94.52 L842.06 96.88 L842.06 104.75" fill="none" stroke="#1482ff" stroke-width="2.1" stroke-linecap="round" stroke-linejoin="round"/>
<path d="M809.21 95.07 L805.59 110.1" fill="none" stroke="#1482ff" stroke-width="3.15" stroke-linecap="round" stroke-linejoin="round"/>
<path d="M809.06 95.07 L808.19 100.03 L808.11 102.39 L808.66 103.88 L810.08 104.59 L811.81 104.44 L813.78 103.18 L815.59 100.58" fill="none" stroke="#1482ff" stroke-width="2.42" stroke-linecap="round" stroke-linejoin="round"/>
<path d="M817.55 95.07 L815.82 100.58 L815.51 102.7 L815.98 104.12 L817.08 104.59 L818.5 103.88 L820.23 101.37" fill="none" stroke="#1482ff" stroke-width="2.73" stroke-linecap="round" stroke-linejoin="round"/>
<path d="M757.81 114.67 L755.45 115.46 L753.88 117.82 L753.09 121.76 L753.09 124.12 L753.88 128.05 L755.45 130.41 L757.81 131.2 L759.39 131.2 L761.75 130.41 L763.32 128.05 L764.11 124.12 L764.11 121.76 L763.32 117.82 L761.75 115.46 L759.39 114.67 L757.81 114.67 M770.6 129.63 L769.81 130.41 L770.6 131.2 L771.39 130.41 L770.6 129.63 M777.88 118.61 L777.88 117.82 L778.66 116.25 L779.45 115.46 L781.03 114.67 L784.17 114.67 L785.75 115.46 L786.54 116.25 L787.32 117.82 L787.32 119.39 L786.54 120.97 L784.96 123.33 L777.09 131.2 L788.11 131.2 M824.74 120.18 L824.74 131.2 M824.74 123.33 L827.1 120.97 L828.68 120.18 L831.04 120.18 L832.61 120.97 L833.4 123.33 L833.4 131.2 M833.4 123.33 L835.76 120.97 L837.34 120.18 L839.7 120.18 L841.27 120.97 L842.06 123.33 L842.06 131.2" fill="none" stroke="#1ef50a" stroke-width="2.1" stroke-linecap="round" stroke-linejoin="round"/>
<path d="M809.21 121.52 L805.59 136.55" fill="none" stroke="#1ef50a" stroke-width="3.15" stroke-linecap="round" stroke-linejoin="round"/>
<path d="M809.06 121.52 L808.19 126.48 L808.11 128.84 L808.66 130.33 L810.08 131.04 L811.81 130.89 L813.78 129.63 L815.59 127.03" fill="none" stroke="#1ef50a" stroke-width="2.42" stroke-linecap="round" stroke-linejoin="round"/>
<path d="M817.55 121.52 L815.82 127.03 L815.51 129.15 L815.98 130.57 L817.08 131.04 L818.5 130.33 L820.23 127.82" fill="none" stroke="#1ef50a" stroke-width="2.73" stroke-linecap="round" stroke-linejoin="round"/>
<path d="M757.81 141.12 L755.45 141.91 L753.88 144.27 L753.09 148.21 L753.09 150.57 L753.88 154.5 L755.45 156.86 L757.81 157.65 L759.39 157.65 L761.75 156.86 L763.32 154.5 L764.11 150.57 L764.11 148.21 L763.32 144.27 L761.75 141.91 L759.39 141.12 L757.81 141.12 M770.6 156.08 L769.81 156.86 L770.6 157.65 L771.39 156.86 L770.6 156.08 M786.54 141.12 L778.66 141.12 L777.88 148.21 L778.66 147.42 L781.03 146.63 L783.39 146.63 L785.75 147.42 L787.32 148.99 L788.11 151.35 L788.11 152.93 L787.32 155.29 L785.75 156.86 L783.39 157.65 L781.03 157.65 L778.66 156.86 L777.88 156.08 L777.09 154.5 M824.74 146.63 L824.74 157.65 M824.74 149.78 L827.1 147.42 L828.68 146.63 L831.04 146.63 L832.61 147.42 L833.4 149.78 L833.4 157.65 M833.4 149.78 L835.76 147.42 L837.34 146.63 L839.7 146.63 L841.27 147.42 L842.06 149.78 L842.06 157.65" fill="none" stroke="#ff9600" stroke-width="2.1" stroke-linecap="round" stroke-linejoin="round"/>
<path d="M809.21 147.97 L805.59 163" fill="none" stroke="#ff9600" stroke-width="3.15" stroke-linecap="round" stroke-linejoin="round"/>
<path d="M809.06 147.97 L808.19 152.93 L808.11 155.29 L808.66 156.78 L810.08 157.49 L811.81 157.34 L813.78 156.08 L815.59 153.48" fill="none" stroke="#ff9600" stroke-width="2.42" stroke-linecap="round" stroke-linejoin="round"/>
<path d="M817.55 147.97 L815.82 153.48 L815.51 155.6 L815.98 157.02 L817.08 157.49 L818.5 156.78 L820.23 154.27" fill="none" stroke="#ff9600" stroke-width="2.73" stroke-linecap="round" stroke-linejoin="round"/>
<path d="M755.45 170.72 L757.03 169.93 L759.39 167.57 L759.39 184.1 M770.6 182.53 L769.81 183.31 L770.6 184.1 L771.39 183.31 L770.6 182.53 M781.81 167.57 L779.45 168.36 L777.88 170.72 L777.09 174.66 L777.09 177.02 L777.88 180.95 L779.45 183.31 L781.81 184.1 L783.39 184.1 L785.75 183.31 L787.32 180.95 L788.11 177.02 L788.11 174.66 L787.32 170.72 L785.75 168.36 L783.39 167.57 L781.81 167.57 M824.74 173.08 L824.74 184.1 M824.74 176.23 L827.1 173.87 L828.68 173.08 L831.04 173.08 L832.61 173.87 L833.4 176.23 L833.4 184.1 M833.4 176.23 L835.76 173.87 L837.34 173.08 L839.7 173.08 L841.27 173.87 L842.06 176.23 L842.06 184.1" fill="none" stroke="#ff0a0a" stroke-width="2.1" stroke-linecap="round" stroke-linejoin="round"/>
<path d="M809.21 174.42 L805.59 189.45" fill="none" stroke="#ff0a0a" stroke-width="3.15" stroke-linecap="round" stroke-linejoin="round"/>
<path d="M809.06 174.42 L808.19 179.38 L808.11 181.74 L808.66 183.23 L810.08 183.94 L811.81 183.79 L813.78 182.53 L815.59 179.93" fill="none" stroke="#ff0a0a" stroke-width="2.42" stroke-linecap="round" stroke-linejoin="round"/>
<path d="M817.55 174.42 L815.82 179.93 L815.51 182.05 L815.98 183.47 L817.08 183.94 L818.5 183.23 L820.23 180.72" fill="none" stroke="#ff0a0a" stroke-width="2.73" stroke-linecap="round" stroke-linejoin="round"/>
<path d="M753.88 197.96 L753.88 197.17 L754.67 195.6 L755.45 194.81 L757.03 194.02 L760.17 194.02 L761.75 194.81 L762.53 195.6 L763.32 197.17 L763.32 198.75 L762.53 200.32 L760.96 202.68 L753.09 210.55 L764.11 210.55 M770.6 208.98 L769.81 209.76 L770.6 210.55 L771.39 209.76 L770.6 208.98 M781.81 194.02 L779.45 194.81 L777.88 197.17 L777.09 201.11 L777.09 203.47 L777.88 207.4 L779.45 209.76 L781.81 210.55 L783.39 210.55 L785.75 209.76 L787.32 207.4 L788.11 203.47 L788.11 201.11 L787.32 197.17 L785.75 194.81 L783.39 194.02 L781.81 194.02 M824.74 199.53 L824.74 210.55 M824.74 202.68 L827.1 200.32 L828.68 199.53 L831.04 199.53 L832.61 200.32 L833.4 202.68 L833.4 210.55 M833.4 202.68 L835.76 200.32 L837.34 199.53 L839.7 199.53 L841.27 200.32 L842.06 202.68 L842.06 210.55" fill="none" stroke="#000000" stroke-width="2.1" stroke-linecap="round" stroke-linejoin="round"/>
<path d="M809.21 200.87 L805.59 215.9" fill="none" stroke="#000000" stroke-width="3.15" stroke-linecap="round" stroke-linejoin="round"/>
<path d="M809.06 200.87 L808.19 205.83 L808.11 208.19 L808.66 209.68 L810.08 210.39 L811.81 210.24 L813.78 208.98 L815.59 206.38" fill="none" stroke="#000000" stroke-width="2.42" stroke-linecap="round" stroke-linejoin="round"/>
<path d="M817.55 200.87 L815.82 206.38 L815.51 208.5 L815.98 209.92 L817.08 210.39 L818.5 209.68 L820.23 207.17" fill="none" stroke="#000000" stroke-width="2.73" stroke-linecap="round" stroke-linejoin="round"/>
<path d="M73.55 193.26 L74.34 194.85 L75.93 196.44 L77.51 197.23 L79.89 198.02 L83.86 198.02 L86.23 197.23 L87.82 196.44 L89.41 194.85 L90.2 193.26 L90.2 190.09 L89.41 188.5 L87.82 186.92 L86.23 186.13 L83.86 185.33 L79.89 185.33 L77.51 186.13 L75.93 186.92 L74.34 188.5 L73.55 190.09 L73.55 193.26 M87.03 190.88 L91.79 186.13 M89.5 176.01 L95.8 176.01 M90.85 176.01 L89.95 176.91 L89.5 177.81 L89.5 179.16 L89.95 180.06 L90.85 180.96 L92.2 181.41 L93.1 181.41 L94.45 180.96 L95.35 180.06 L95.8 179.16 L95.8 177.81 L95.35 176.91 L94.45 176.01 M86.35 172.03 L95.8 172.03 M90.85 172.03 L89.95 171.13 L89.5 170.23 L89.5 168.88 L89.95 167.98 L90.85 167.08 L92.2 166.63 L93.1 166.63 L94.45 167.08 L95.35 167.98 L95.8 168.88 L95.8 170.23 L95.35 171.13 L94.45 172.03 M90.85 158.62 L89.95 159.07 L89.5 160.42 L89.5 161.77 L89.95 163.12 L90.85 163.57 L91.75 163.12 L92.2 162.22 L92.65 159.97 L93.1 159.07 L94 158.62 L94.45 158.62 L95.35 159.07 L95.8 160.42 L95.8 161.77 L95.35 163.12 L94.45 163.57 M89.41 152.35 L90.2 153.14 L89.41 153.93 L88.61 153.14 L89.41 152.35 L90.99 152.35 L92.58 153.14 L93.37 153.93 M73.55 129.35 L74.34 130.94 L75.93 132.52 L77.51 133.31 L79.89 134.11 L83.86 134.11 L86.23 133.31 L87.82 132.52 L89.41 130.94 L90.2 129.35 L90.2 126.18 L89.41 124.59 L87.82 123.01 L86.23 122.21 L83.86 121.42 L79.89 121.42 L77.51 122.21 L75.93 123.01 L74.34 124.59 L73.55 126.18 L73.55 129.35 M87.03 126.97 L91.79 122.21 M92.2 117.51 L92.2 112.11 L91.3 112.11 L90.4 112.56 L89.95 113.01 L89.5 113.91 L89.5 115.26 L89.95 116.16 L90.85 117.06 L92.2 117.51 L93.1 117.51 L94.45 117.06 L95.35 116.16 L95.8 115.26 L95.8 113.91 L95.35 113.01 L94.45 112.11 M89.5 109.06 L95.8 104.11 M89.5 104.11 L95.8 109.06 M86.35 100.22 L94 100.22 L95.35 99.77 L95.8 98.87 L95.8 97.97 M89.5 101.57 L89.5 98.42" fill="none" stroke="#000" stroke-width="2.05" stroke-linecap="round" stroke-linejoin="round"/>
<path d="M49.25 359.96 L50.04 361.55 L51.63 363.14 L53.21 363.93 L55.59 364.72 L59.56 364.72 L61.94 363.93 L63.52 363.14 L65.11 361.55 L65.9 359.96 L65.9 356.79 L65.11 355.21 L63.52 353.62 L61.94 352.83 L59.56 352.03 L55.59 352.03 L53.21 352.83 L51.63 353.62 L50.04 355.21 L49.25 356.79 L49.25 359.96 M62.73 357.58 L67.49 352.83 M65.2 347.66 L74.65 347.66 M66.55 347.66 L65.65 346.76 L65.2 345.86 L65.2 344.51 L65.65 343.61 L66.55 342.71 L67.9 342.26 L68.8 342.26 L70.15 342.71 L71.05 343.61 L71.5 344.51 L71.5 345.86 L71.05 346.76 L70.15 347.66 M65.2 336.93 L65.65 337.83 L66.55 338.73 L67.9 339.18 L68.8 339.18 L70.15 338.73 L71.05 337.83 L71.5 336.93 L71.5 335.58 L71.05 334.68 L70.15 333.78 L68.8 333.33 L67.9 333.33 L66.55 333.78 L65.65 334.68 L65.2 335.58 L65.2 336.93 M62.05 329.91 L71.5 329.91" fill="none" stroke="#000" stroke-width="2.05" stroke-linecap="round" stroke-linejoin="round"/>
<path d="M49.25 588.26 L50.04 589.85 L51.63 591.43 L53.21 592.23 L55.59 593.02 L59.56 593.02 L61.94 592.23 L63.52 591.43 L65.11 589.85 L65.9 588.26 L65.9 585.09 L65.11 583.5 L63.52 581.92 L61.94 581.13 L59.56 580.33 L55.59 580.33 L53.21 581.13 L51.63 581.92 L50.04 583.5 L49.25 585.09 L49.25 588.26 M62.73 585.88 L67.49 581.13 M65.2 575.96 L74.65 575.96 M66.55 575.96 L65.65 575.06 L65.2 574.16 L65.2 572.81 L65.65 571.91 L66.55 571.01 L67.9 570.56 L68.8 570.56 L70.15 571.01 L71.05 571.91 L71.5 572.81 L71.5 574.16 L71.05 575.06 L70.15 575.96 M65.2 565.23 L65.65 566.13 L66.55 567.03 L67.9 567.48 L68.8 567.48 L70.15 567.03 L71.05 566.13 L71.5 565.23 L71.5 563.88 L71.05 562.98 L70.15 562.08 L68.8 561.63 L67.9 561.63 L66.55 562.08 L65.65 562.98 L65.2 563.88 L65.2 565.23 M62.05 558.21 L71.5 558.21 M46.08 540.47 L71.45 554.75 M49.25 531.75 L50.04 533.34 L51.63 534.92 L53.21 535.72 L55.59 536.51 L59.56 536.51 L61.94 535.72 L63.52 534.92 L65.11 533.34 L65.9 531.75 L65.9 528.58 L65.11 526.99 L63.52 525.41 L61.94 524.61 L59.56 523.82 L55.59 523.82 L53.21 524.61 L51.63 525.41 L50.04 526.99 L49.25 528.58 L49.25 531.75 M62.73 529.37 L67.49 524.61 M67.9 519.91 L67.9 514.51 L67 514.51 L66.1 514.96 L65.65 515.41 L65.2 516.31 L65.2 517.66 L65.65 518.56 L66.55 519.46 L67.9 519.91 L68.8 519.91 L70.15 519.46 L71.05 518.56 L71.5 517.66 L71.5 516.31 L71.05 515.41 L70.15 514.51 M65.2 511.46 L71.5 506.51 M65.2 506.51 L71.5 511.46 M62.05 502.62 L69.7 502.62 L71.05 502.17 L71.5 501.27 L71.5 500.37 M65.2 503.97 L65.2 500.82" fill="none" stroke="#000" stroke-width="2.05" stroke-linecap="round" stroke-linejoin="round"/>
</svg>
</body></html>
